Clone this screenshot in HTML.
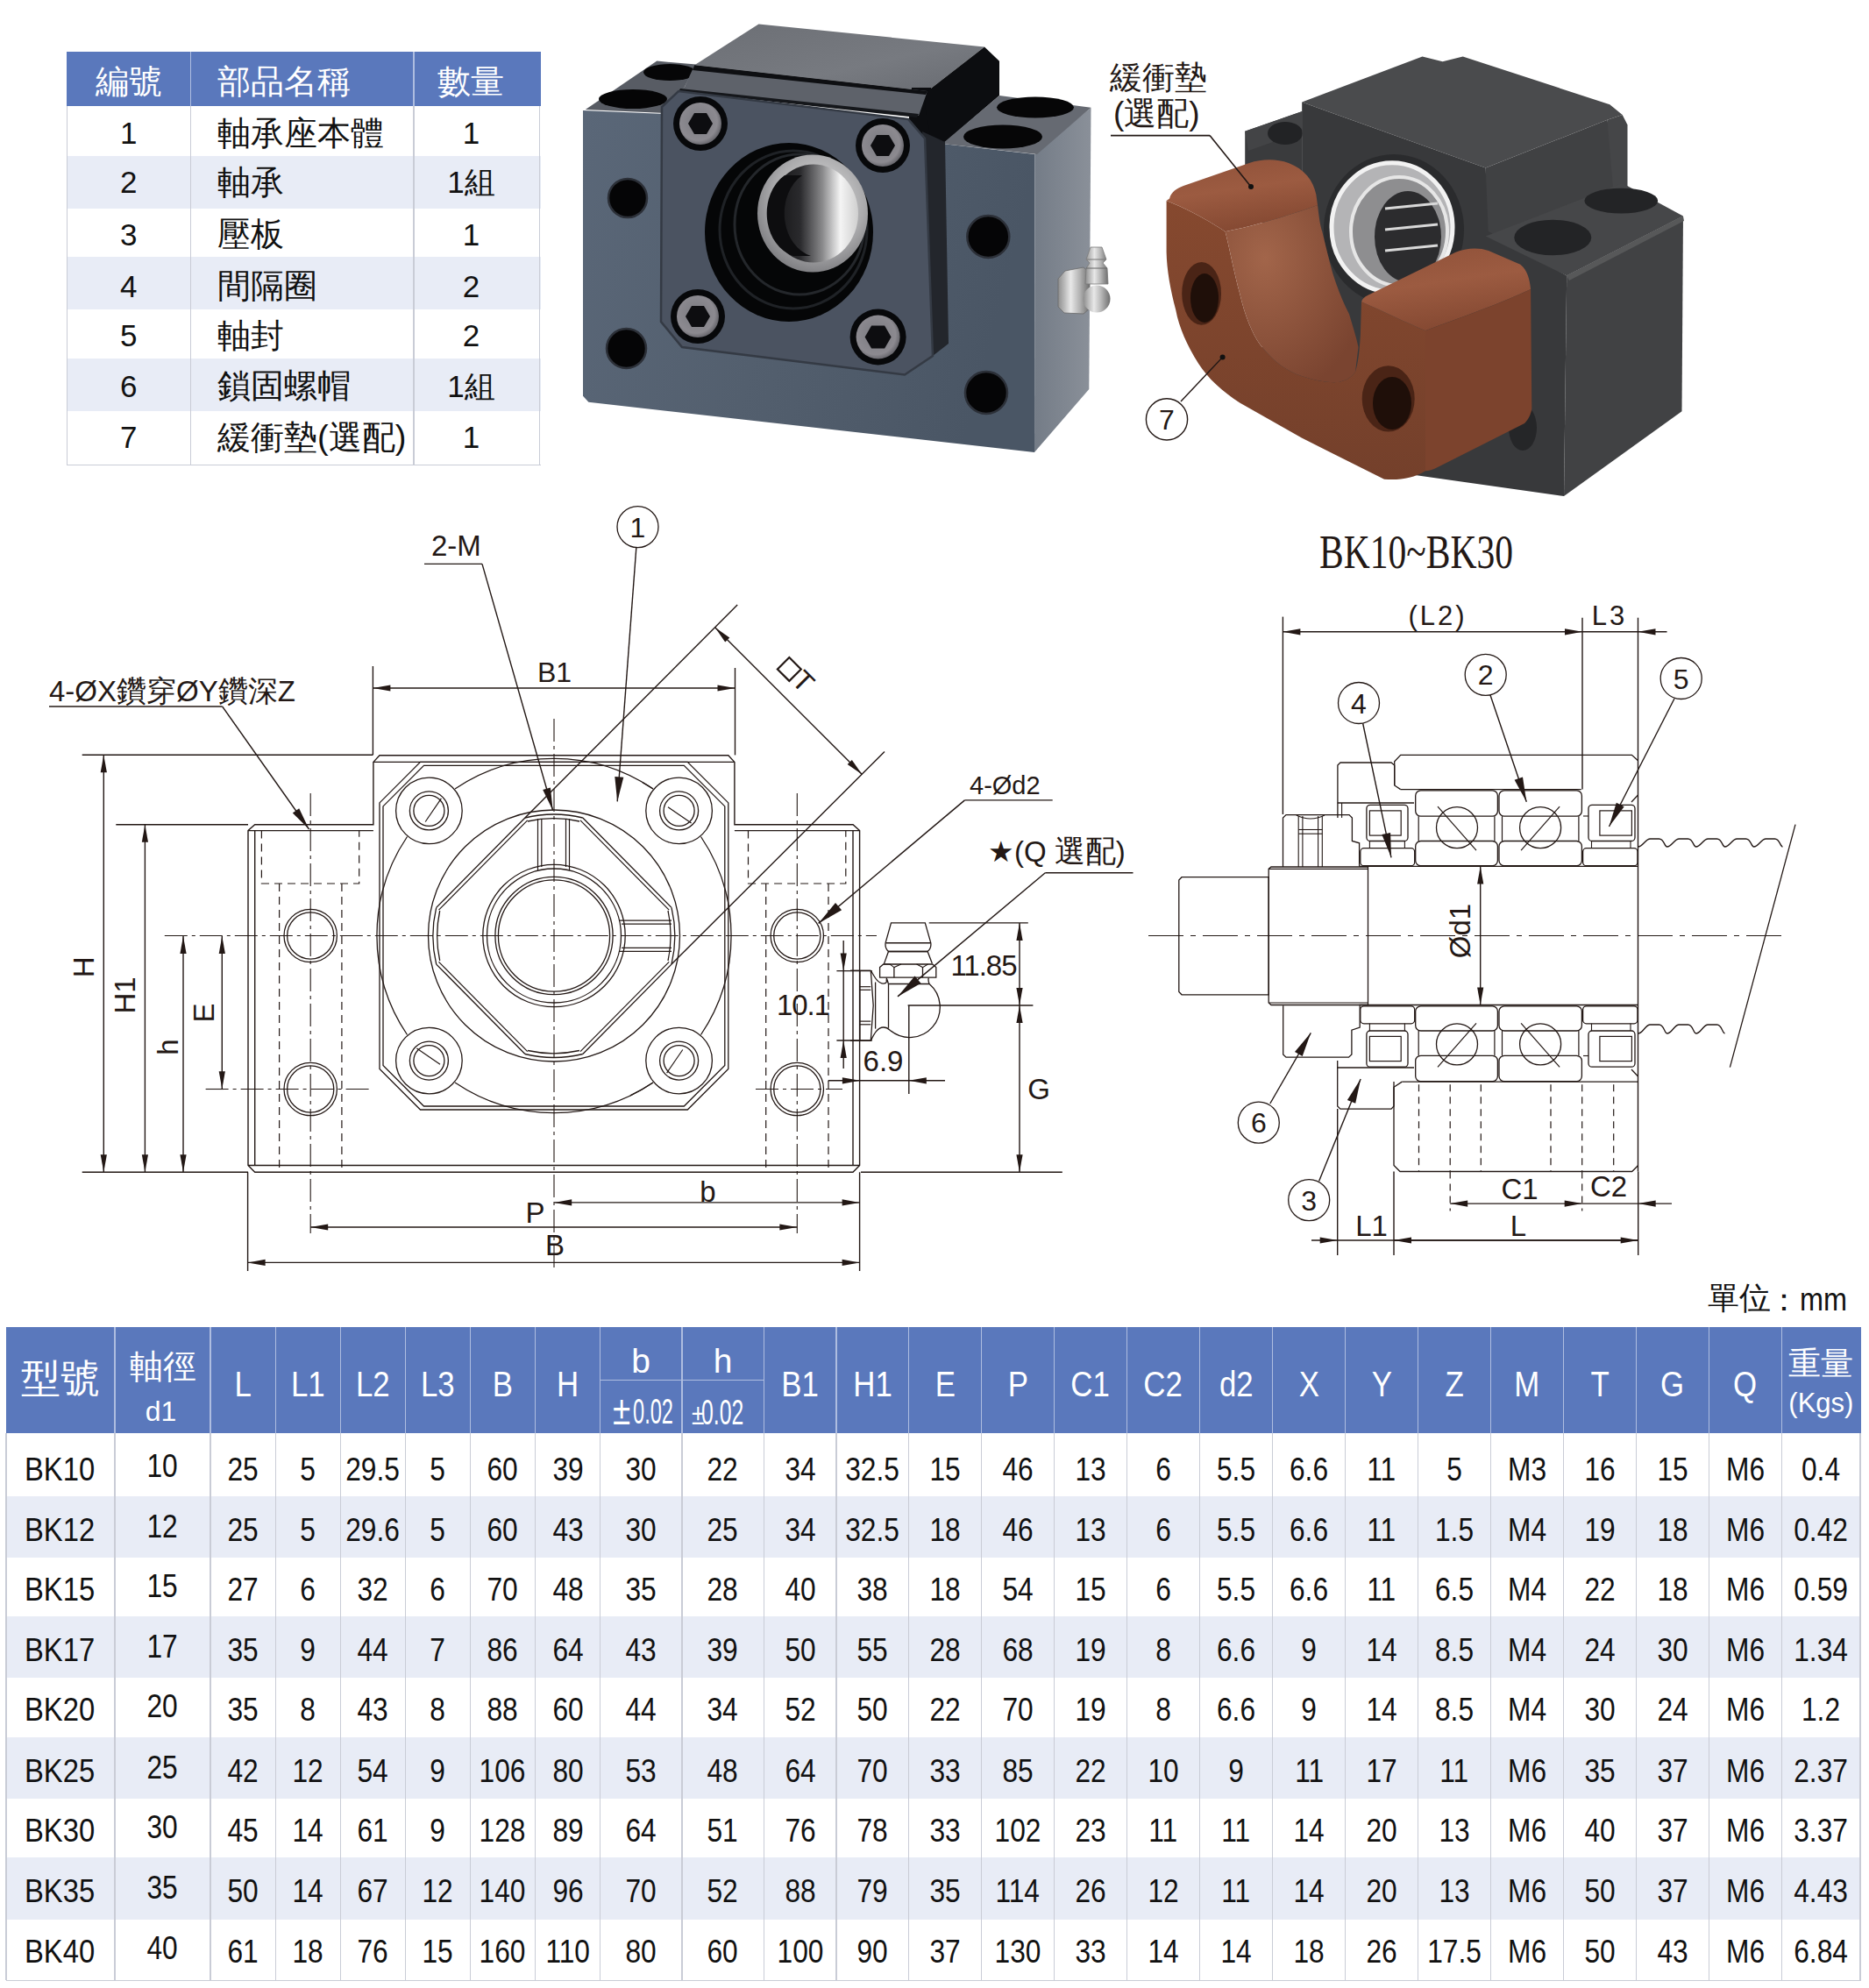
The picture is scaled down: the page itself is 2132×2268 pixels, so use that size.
<!DOCTYPE html>
<html><head><meta charset="utf-8"><title>BK</title><style>
html,body{margin:0;padding:0;background:#fff}
body{width:2132px;height:2268px;position:relative;overflow:hidden;font-family:"Liberation Sans",sans-serif;color:#111}
.a{position:absolute}
.t{position:absolute;white-space:nowrap}
svg text{font-family:"Liberation Sans",sans-serif}
</style></head><body>
<div class="a" style="left:76.0px;top:59.0px;width:540.5px;height:62.0px;background:#5a78bc"></div>
<div class="a" style="left:76.0px;top:178.0px;width:540.5px;height:60.3px;background:#e8ecf6"></div>
<div class="a" style="left:76.0px;top:292.9px;width:540.5px;height:60.4px;background:#e8ecf6"></div>
<div class="a" style="left:76.0px;top:409.3px;width:540.5px;height:59.7px;background:#e8ecf6"></div>
<div class="a" style="left:76.0px;top:121.0px;width:1.2px;height:410.0px;background:#c9ccd6"></div>
<div class="a" style="left:615.3px;top:121.0px;width:1.2px;height:410.0px;background:#c9ccd6"></div>
<div class="a" style="left:76.0px;top:529.8px;width:540.5px;height:1.2px;background:#c9ccd6"></div>
<div class="a" style="left:216.9px;top:59.0px;width:1.4px;height:62.0px;background:#aebde0"></div>
<div class="a" style="left:216.9px;top:121.0px;width:1.4px;height:410.0px;background:#c9ccd6"></div>
<div class="a" style="left:471.4px;top:59.0px;width:1.4px;height:62.0px;background:#aebde0"></div>
<div class="a" style="left:471.4px;top:121.0px;width:1.4px;height:410.0px;background:#c9ccd6"></div>
<div class="t " style="left:-52.8px;width:400px;text-align:center;top:73.5px;font-size:38px;line-height:38px;color:#fff">編號</div>
<div class="t " style="left:248px;top:73.5px;font-size:38px;line-height:38px;color:#fff">部品名稱</div>
<div class="t " style="left:336.7px;width:400px;text-align:center;top:73.5px;font-size:38px;line-height:38px;color:#fff">數量</div>
<div class="t " style="left:-53.3px;width:400px;text-align:center;top:134.3px;font-size:35px;line-height:35px;color:#111">1</div>
<div class="t " style="left:248px;top:132.8px;font-size:38px;line-height:38px;color:#111">軸承座本體</div>
<div class="t " style="left:337.5px;width:400px;text-align:center;top:134.3px;font-size:35px;line-height:35px;color:#111">1</div>
<div class="t " style="left:-53.3px;width:400px;text-align:center;top:190.4px;font-size:35px;line-height:35px;color:#111">2</div>
<div class="t " style="left:248px;top:188.9px;font-size:38px;line-height:38px;color:#111">軸承</div>
<div class="t " style="left:337.5px;width:400px;text-align:center;top:190.4px;font-size:35px;line-height:35px;color:#111">1組</div>
<div class="t " style="left:-53.3px;width:400px;text-align:center;top:249.5px;font-size:35px;line-height:35px;color:#111">3</div>
<div class="t " style="left:248px;top:248.0px;font-size:38px;line-height:38px;color:#111">壓板</div>
<div class="t " style="left:337.5px;width:400px;text-align:center;top:249.5px;font-size:35px;line-height:35px;color:#111">1</div>
<div class="t " style="left:-53.3px;width:400px;text-align:center;top:308.7px;font-size:35px;line-height:35px;color:#111">4</div>
<div class="t " style="left:248px;top:307.2px;font-size:38px;line-height:38px;color:#111">間隔圈</div>
<div class="t " style="left:337.5px;width:400px;text-align:center;top:308.7px;font-size:35px;line-height:35px;color:#111">2</div>
<div class="t " style="left:-53.3px;width:400px;text-align:center;top:365.1px;font-size:35px;line-height:35px;color:#111">5</div>
<div class="t " style="left:248px;top:363.6px;font-size:38px;line-height:38px;color:#111">軸封</div>
<div class="t " style="left:337.5px;width:400px;text-align:center;top:365.1px;font-size:35px;line-height:35px;color:#111">2</div>
<div class="t " style="left:-53.3px;width:400px;text-align:center;top:422.7px;font-size:35px;line-height:35px;color:#111">6</div>
<div class="t " style="left:248px;top:421.2px;font-size:38px;line-height:38px;color:#111">鎖固螺帽</div>
<div class="t " style="left:337.5px;width:400px;text-align:center;top:422.7px;font-size:35px;line-height:35px;color:#111">1組</div>
<div class="t " style="left:-53.3px;width:400px;text-align:center;top:481.0px;font-size:35px;line-height:35px;color:#111">7</div>
<div class="t " style="left:248px;top:479.5px;font-size:38px;line-height:38px;color:#111">緩衝墊(選配)</div>
<div class="t " style="left:337.5px;width:400px;text-align:center;top:481.0px;font-size:35px;line-height:35px;color:#111">1</div>
<svg class="a" style="left:0;top:0" width="2132" height="2268" viewBox="0 0 2132 2268" xmlns="http://www.w3.org/2000/svg">
<defs>
<linearGradient id="p1front" x1="0" y1="0" x2="1" y2="0.2"><stop offset="0" stop-color="#5a6778"/><stop offset="0.5" stop-color="#535f6e"/><stop offset="1" stop-color="#4a5665"/></linearGradient>
<linearGradient id="p1side" x1="0" y1="0" x2="1" y2="0"><stop offset="0" stop-color="#747c87"/><stop offset="1" stop-color="#8a9099"/></linearGradient>
<linearGradient id="p1top" x1="0" y1="0" x2="1" y2="1"><stop offset="0" stop-color="#6c6f75"/><stop offset="0.6" stop-color="#777a80"/><stop offset="1" stop-color="#686b71"/></linearGradient>
<radialGradient id="silver" cx="0.55" cy="0.4" r="0.7"><stop offset="0" stop-color="#e6e6e6"/><stop offset="0.6" stop-color="#a9a9ab"/><stop offset="1" stop-color="#6c6c70"/></radialGradient>
<linearGradient id="bore" x1="0" y1="0" x2="1" y2="0"><stop offset="0" stop-color="#101012"/><stop offset="0.35" stop-color="#2a2a2d"/><stop offset="0.6" stop-color="#8a8a8c"/><stop offset="0.8" stop-color="#f4f4f4"/><stop offset="1" stop-color="#cfcfcf"/></linearGradient>
<radialGradient id="bolt" cx="0.45" cy="0.45" r="0.6"><stop offset="0" stop-color="#7a7a80"/><stop offset="0.75" stop-color="#8c8a90"/><stop offset="1" stop-color="#5a5a60"/></radialGradient>
<linearGradient id="nip" x1="0" y1="0" x2="1" y2="0"><stop offset="0" stop-color="#8d8d8d"/><stop offset="0.4" stop-color="#e8e8e8"/><stop offset="0.7" stop-color="#b0b0b0"/><stop offset="1" stop-color="#6d6d6d"/></linearGradient>
</defs>
<polygon points="665.0,126.0 758.6,130.0 1075.0,164.0 1180.5,176.0 1180.0,516.0 671.4,458.7 665.0,451.7" fill="url(#p1front)"/>
<polygon points="1180.5,176.0 1244.5,122.7 1242.3,444.0 1180.0,516.0" fill="url(#p1side)"/>
<polygon points="667.8,125.0 749.3,69.6 794.0,73.5 781.0,99.0 758.6,129.0" fill="#585c64"/>
<ellipse cx="722" cy="113" rx="39" ry="11" fill="#050506"/>
<ellipse cx="764" cy="82.5" rx="30" ry="9.5" fill="#060607"/>
<polygon points="792.3,74.3 865.4,27.5 1123.0,53.4 1057.9,103.9" fill="url(#p1top)"/>
<polygon points="1040.0,100.0 1062.0,100.0 1066.0,170.0 1036.0,145.0" fill="#0c0d10"/>
<polygon points="781.0,99.0 792.3,74.3 1057.9,103.9 1048.0,132.0 774.2,104.2" fill="#5e626a"/>
<polygon points="792.3,74.3 1057.9,103.9 1056.0,108.0 790.0,80.0" fill="#0e0f12"/>
<polygon points="776.0,101.0 1048.0,130.0 1046.0,134.0 774.2,104.2" fill="#15171b"/>
<polygon points="1057.9,103.9 1123.0,53.4 1140.0,69.7 1140.0,109.0 1076.0,164.0 1062.0,160.0 1055.0,120.0" fill="#0c0d10"/>
<polygon points="1075.0,164.0 1140.0,109.0 1244.5,122.7 1183.0,176.0" fill="#666a72"/>
<ellipse cx="1181" cy="122.5" rx="44" ry="12" fill="#060607"/>
<ellipse cx="1144" cy="156" rx="45" ry="13.5" fill="#060607"/>
<polygon points="1052.0,150.0 1078.0,162.0 1082.0,392.0 1064.0,406.0" fill="#23262c"/>
<polygon points="755.0,122.0 774.0,104.0 1036.0,136.0 1055.0,158.0 1064.0,406.0 1032.0,427.5 778.0,396.0 754.0,367.0" fill="#4b5361" stroke="#343a44" stroke-width="2.5"/>
<ellipse cx="900" cy="265" rx="96" ry="102" fill="#050607"/>
<ellipse cx="905" cy="262" rx="84" ry="90" fill="none" stroke="#1f2226" stroke-width="3"/>
<ellipse cx="912" cy="256" rx="74" ry="80" fill="none" stroke="#24272b" stroke-width="3"/>
<ellipse cx="927" cy="243.6" rx="63" ry="67" fill="url(#silver)"/>
<ellipse cx="928" cy="243.6" rx="51" ry="56" fill="url(#bore)"/>
<path d="M895,200 A40,50 0 0,0 905,292 L925,292 A40,50 0 0,1 915,200 Z" fill="#0d0d0f"/>
<circle cx="799" cy="141" r="31" fill="#07080a"/>
<circle cx="799" cy="141" r="24" fill="url(#bolt)"/>
<polygon points="813.0,141.0 806.0,153.1 792.0,153.1 785.0,141.0 792.0,128.9 806.0,128.9" fill="#0d0d10"/>
<circle cx="1007" cy="166" r="31" fill="#07080a"/>
<circle cx="1007" cy="166" r="24" fill="url(#bolt)"/>
<polygon points="1021.0,166.0 1014.0,178.1 1000.0,178.1 993.0,166.0 1000.0,153.9 1014.0,153.9" fill="#0d0d10"/>
<circle cx="796" cy="361" r="31" fill="#07080a"/>
<circle cx="796" cy="361" r="24" fill="url(#bolt)"/>
<polygon points="810.0,361.0 803.0,373.1 789.0,373.1 782.0,361.0 789.0,348.9 803.0,348.9" fill="#0d0d10"/>
<circle cx="1001.6" cy="384.5" r="32" fill="#07080a"/>
<circle cx="1001.6" cy="384.5" r="25" fill="url(#bolt)"/>
<polygon points="1016.6,384.5 1009.1,397.5 994.1,397.5 986.6,384.5 994.1,371.5 1009.1,371.5" fill="#0d0d10"/>
<circle cx="716" cy="226" r="22" fill="#050506" stroke="#2c3038" stroke-width="2.5"/>
<circle cx="714.5" cy="397.5" r="22.5" fill="#050506" stroke="#2c3038" stroke-width="2.5"/>
<circle cx="1127.3" cy="270" r="24" fill="#050506" stroke="#2c3038" stroke-width="2.5"/>
<circle cx="1125" cy="448" r="24" fill="#050506" stroke="#2c3038" stroke-width="2.5"/>
<polygon points="1207.0,318.0 1215.0,309.0 1236.0,305.0 1243.0,311.0 1243.0,352.0 1236.0,358.0 1214.0,357.0 1207.0,350.0" fill="url(#nip)" stroke="#6a6a6a" stroke-width="0.8"/>
<circle cx="1251" cy="341" r="15.5" fill="url(#nip)"/>
<path d="M1244,282 L1257,282 L1262,296 L1258,300 L1263,306 L1264,324 L1238,324 L1239,306 L1243,300 L1239,296 Z" fill="url(#nip)" stroke="#7a7a7a" stroke-width="0.8"/>
<line x1="1239" y1="306" x2="1263" y2="306" stroke="#666" stroke-width="1"/>
<line x1="1240" y1="296" x2="1261" y2="296" stroke="#777" stroke-width="1"/>
<defs>
<linearGradient id="brtop" x1="0" y1="0" x2="0.3" y2="1"><stop offset="0" stop-color="#8f5139"/><stop offset="0.5" stop-color="#9c5b41"/><stop offset="1" stop-color="#864a33"/></linearGradient>
<linearGradient id="brfront" x1="0" y1="0" x2="0" y2="1"><stop offset="0" stop-color="#86492f"/><stop offset="1" stop-color="#74402b"/></linearGradient>
<radialGradient id="brg" cx="0.3" cy="0.3" r="0.8"><stop offset="0" stop-color="#a2654a"/><stop offset="1" stop-color="#7a4430"/></radialGradient>
<radialGradient id="brg2" cx="0.5" cy="0.5" r="0.6"><stop offset="0" stop-color="#eeeeee"/><stop offset="0.55" stop-color="#c8c8c8"/><stop offset="0.8" stop-color="#8a8a8a"/><stop offset="1" stop-color="#4a4a4a"/></radialGradient>
</defs>
<polygon points="1420.2,149.7 1485.5,127.0 1485.5,230.0 1420.2,240.0" fill="#3a3b3d"/>
<polygon points="1420.2,149.7 1485.5,127.0 1485.5,150.0 1424.0,172.0" fill="#434446"/>
<ellipse cx="1466" cy="152" rx="20" ry="13" fill="#222325"/>
<polygon points="1485.2,116.5 1622.5,64.4 1645.6,70.2 1668.7,64.4 1836.3,119.3 1850.7,130.9 1833.4,136.7 1694.7,191.6" fill="#4a4b4d"/>
<polygon points="1694.7,191.6 1833.4,136.7 1850.0,212.0 1694.7,272.0" fill="#404143"/>
<polygon points="1833.4,136.7 1850.7,130.9 1856.5,142.5 1856.5,214.0 1840.0,214.0" fill="#454648"/>
<polygon points="1485.2,116.5 1694.7,191.6 1697.6,263.8 1787.2,314.4 1784.0,566.0 1600.0,540.0 1440.0,440.0 1440.0,240.0 1485.2,235.0" fill="#38393b"/>
<polygon points="1694.7,269.6 1850.7,208.9 1920.0,246.5 1787.2,314.4" fill="#464749"/>
<ellipse cx="1849.3" cy="229.1" rx="41.9" ry="14.4" fill="#232426"/>
<ellipse cx="1771.3" cy="271" rx="44" ry="20.2" fill="#232426"/>
<polygon points="1787.2,314.4 1920.0,246.5 1918.5,469.3 1784.0,566.0" fill="#414244"/>
<polygon points="1787.2,314.4 1920.0,246.5 1921.0,252.0 1790.0,320.0" fill="#575859"/>
<ellipse cx="1590" cy="262" rx="80" ry="86" fill="#2a2b2d"/>
<ellipse cx="1588" cy="259.4" rx="69" ry="73.7" fill="#b4b4b6" stroke="#f2f2f2" stroke-width="5"/>
<ellipse cx="1596" cy="264" rx="55" ry="62" fill="#8e8e90" stroke="#e6e6e6" stroke-width="4"/>
<ellipse cx="1606" cy="270" rx="38" ry="52" fill="#2c2c2e"/>
<line x1="1580" y1="238" x2="1640" y2="232" stroke="#d8d8d8" stroke-width="3"/>
<line x1="1580" y1="262" x2="1640" y2="256" stroke="#d8d8d8" stroke-width="3"/>
<line x1="1580" y1="286" x2="1640" y2="280" stroke="#d8d8d8" stroke-width="3"/>
<ellipse cx="1737" cy="488" rx="16" ry="26" fill="#252628"/>
<path d="M1330.6,228.9 C1360,240 1385,256 1397.7,264.2 C1404,290 1408,312 1414.2,334.8 C1420,360 1428,380 1437.7,393.6 C1452,412 1468,424 1484.8,429 C1500,434 1514,437 1527.2,436 C1536,434 1542,430 1546,424.3 C1550,412 1551,396 1551.9,381.9 L1553,344.2 C1580,356 1604,368 1626,377.2 L1626,537.3 C1612,546 1596,548 1579,546.7 L1484.8,499.6 L1414.2,459.6 C1394,446 1378,432 1367.1,414.8 C1354,394 1345,374 1341.2,353.6 C1335,330 1331,308 1330.6,287.7 Z" fill="url(#brfront)"/>
<path d="M1334.1,226.5 C1336,219 1342,215 1350,212 L1425,186 C1440,181 1456,181 1470,186 C1488,193 1498,206 1501.3,221.8 L1503,234 C1470,246 1430,258 1397.7,264.2 C1385,256 1360,240 1330.6,228.9 Z" fill="url(#brtop)"/>
<path d="M1397.7,264.2 C1430,258 1470,246 1503,234 C1505,250 1506,258 1508.3,264.2 C1512,280 1516,296 1520.1,311.2 C1526,330 1532,345 1539,358.3 C1543,372 1547,384 1549.5,396 L1546,424.3 C1542,430 1536,434 1527.2,436 C1514,437 1500,434 1484.8,429 C1468,424 1452,412 1437.7,393.6 C1428,380 1420,360 1414.2,334.8 C1408,312 1404,290 1397.7,264.2 Z" fill="url(#brg)"/>
<path d="M1553,344.2 C1554,341 1556,339 1560,337 L1660,288 C1672,283 1686,282 1698,286 L1734.3,301.8 C1742,308 1745,318 1746.1,330.1 C1712,346 1668,362 1626,377.2 C1604,368 1580,356 1553,344.2 Z" fill="url(#brtop)"/>
<path d="M1626,377.2 C1668,362 1712,346 1746.1,330.1 L1747.3,466.6 C1746,474 1743,479 1739,483.1 L1640,533 C1634,536 1630,537 1626,537.3 Z" fill="#7c432d"/>
<ellipse cx="1370.6" cy="334.8" rx="22.4" ry="35.9" fill="#4a2416"/>
<ellipse cx="1374" cy="340" rx="16" ry="28" fill="#1f0f09"/>
<ellipse cx="1583.7" cy="454.9" rx="30" ry="37.7" fill="#4a2416"/>
<ellipse cx="1588" cy="460" rx="22" ry="30" fill="#1f0f09"/>
<text x="1266" y="101" font-size="37" fill="#231815">緩衝墊</text>
<text x="1270" y="142" font-size="37" fill="#231815">(選配)</text>
<line x1="1267.0" y1="154.6" x2="1380.0" y2="154.6" stroke="#231815" stroke-width="1.6"/>
<line x1="1380.0" y1="154.6" x2="1427.0" y2="213.0" stroke="#231815" stroke-width="1.6"/>
<circle cx="1427" cy="213" r="3" fill="#111"/>
<line x1="1347.0" y1="458.0" x2="1394.6" y2="407.5" stroke="#231815" stroke-width="1.4"/>
<circle cx="1394.6" cy="407.5" r="3" fill="#111"/>
<circle cx="1331" cy="478.4" r="23.6" fill="#fff" stroke="#231815" stroke-width="1.4"/>
<text x="1331.0" y="490.0" font-size="32" text-anchor="middle" fill="#231815" >7</text>
<polygon points="283.0,947.6 290.7,940.7 425.9,940.7 425.9,869.4 433.0,861.7 830.8,861.7 837.9,869.4 837.9,940.7 973.0,940.7 980.6,947.6 980.6,1329.5 973.0,1337.3 290.7,1337.3 283.0,1329.5" fill="none" stroke="#231815" stroke-width="1.4"/>
<line x1="290.7" y1="947.6" x2="290.7" y2="1329.5" stroke="#231815" stroke-width="1.4"/>
<line x1="973.0" y1="947.6" x2="973.0" y2="1329.5" stroke="#231815" stroke-width="1.4"/>
<line x1="283.0" y1="947.6" x2="425.9" y2="947.6" stroke="#231815" stroke-width="1.4"/>
<line x1="837.9" y1="947.6" x2="980.6" y2="947.6" stroke="#231815" stroke-width="1.4"/>
<line x1="283.0" y1="1329.5" x2="980.6" y2="1329.5" stroke="#231815" stroke-width="1.4"/>
<line x1="425.9" y1="869.4" x2="837.9" y2="869.4" stroke="#231815" stroke-width="1.4"/>
<polygon points="479.5,869.4 784.3,869.4 830.8,915.9 830.8,1219.5 784.3,1266.0 479.5,1266.0 433.0,1219.5 433.0,915.9" fill="none" stroke="#231815" stroke-width="1.3"/>
<polygon points="483.5,873.4 780.3,873.4 826.8,919.9 826.8,1215.5 780.3,1262.0 483.5,1262.0 437.0,1215.5 437.0,919.9" fill="none" stroke="#231815" stroke-width="1.3"/>
<path d="M519.0,900.0 A202,202 0 0,1 745.0,900.0" fill="none" stroke="#231815" stroke-width="1.3"/>
<path d="M799.5,954.5 A202,202 0 0,1 799.5,1180.5" fill="none" stroke="#231815" stroke-width="1.3"/>
<path d="M745.0,1235.0 A202,202 0 0,1 519.0,1235.0" fill="none" stroke="#231815" stroke-width="1.3"/>
<path d="M464.5,1180.5 A202,202 0 0,1 464.5,954.5" fill="none" stroke="#231815" stroke-width="1.3"/>
<path d="M733.0,892.6 A202,202 0 0,1 745.0,900.0" fill="none" stroke="#231815" stroke-width="1.3" stroke-dasharray="30 8 4 8"/>
<path d="M745.0,1235.0 A202,202 0 0,1 717.4,1250.6" fill="none" stroke="#231815" stroke-width="1.3" stroke-dasharray="30 8 4 8"/>
<circle cx="489.4" cy="924.9" r="37.8" fill="none" stroke="#231815" stroke-width="1.3"/>
<circle cx="489.4" cy="924.9" r="22.0" fill="none" stroke="#231815" stroke-width="1.3"/>
<circle cx="489.4" cy="924.9" r="17.5" fill="none" stroke="#231815" stroke-width="1.3"/>
<line x1="485.2" y1="937.5" x2="503.4" y2="910.9" stroke="#231815" stroke-width="1.2"/>
<circle cx="489.4" cy="1210.1" r="37.8" fill="none" stroke="#231815" stroke-width="1.3"/>
<circle cx="489.4" cy="1210.1" r="22.0" fill="none" stroke="#231815" stroke-width="1.3"/>
<circle cx="489.4" cy="1210.1" r="17.5" fill="none" stroke="#231815" stroke-width="1.3"/>
<line x1="502.0" y1="1214.3" x2="475.4" y2="1196.1" stroke="#231815" stroke-width="1.2"/>
<circle cx="774.6" cy="924.9" r="37.8" fill="none" stroke="#231815" stroke-width="1.3"/>
<circle cx="774.6" cy="924.9" r="22.0" fill="none" stroke="#231815" stroke-width="1.3"/>
<circle cx="774.6" cy="924.9" r="17.5" fill="none" stroke="#231815" stroke-width="1.3"/>
<line x1="762.0" y1="920.7" x2="788.6" y2="938.9" stroke="#231815" stroke-width="1.2"/>
<circle cx="774.6" cy="1210.1" r="37.8" fill="none" stroke="#231815" stroke-width="1.3"/>
<circle cx="774.6" cy="1210.1" r="22.0" fill="none" stroke="#231815" stroke-width="1.3"/>
<circle cx="774.6" cy="1210.1" r="17.5" fill="none" stroke="#231815" stroke-width="1.3"/>
<line x1="778.8" y1="1197.5" x2="760.6" y2="1224.1" stroke="#231815" stroke-width="1.2"/>
<circle cx="632.0" cy="1067.5" r="143.5" fill="none" stroke="#231815" stroke-width="1.3"/>
<line x1="664.8" y1="933.0" x2="766.0" y2="1035.4" stroke="#231815" stroke-width="1.3"/>
<line x1="662.0" y1="935.8" x2="763.2" y2="1038.2" stroke="#231815" stroke-width="1.2"/>
<line x1="766.0" y1="1100.1" x2="664.8" y2="1202.5" stroke="#231815" stroke-width="1.3"/>
<line x1="763.2" y1="1097.3" x2="662.0" y2="1199.7" stroke="#231815" stroke-width="1.2"/>
<line x1="598.9" y1="1202.5" x2="497.7" y2="1100.1" stroke="#231815" stroke-width="1.3"/>
<line x1="601.7" y1="1199.7" x2="500.5" y2="1097.3" stroke="#231815" stroke-width="1.2"/>
<line x1="497.7" y1="1035.4" x2="598.9" y2="933.0" stroke="#231815" stroke-width="1.3"/>
<line x1="500.5" y1="1038.2" x2="601.7" y2="935.8" stroke="#231815" stroke-width="1.2"/>
<path d="M598.9,933.0 A140,140 0 0,1 664.8,933.0" fill="none" stroke="#231815" stroke-width="1.3"/>
<path d="M766.0,1035.4 A140,140 0 0,1 766.0,1100.1" fill="none" stroke="#231815" stroke-width="1.3"/>
<path d="M664.8,1202.5 A140,140 0 0,1 598.9,1202.5" fill="none" stroke="#231815" stroke-width="1.3"/>
<path d="M497.7,1100.1 A140,140 0 0,1 497.7,1035.4" fill="none" stroke="#231815" stroke-width="1.3"/>
<path d="M602.0,937.0 A136,136 0 0,1 661.0,937.0" fill="none" stroke="#231815" stroke-width="1.3"/>
<path d="M762.0,1039.0 A136,136 0 0,1 762.0,1096.0" fill="none" stroke="#231815" stroke-width="1.3"/>
<path d="M661.0,1198.5 A136,136 0 0,1 602.0,1198.5" fill="none" stroke="#231815" stroke-width="1.3"/>
<path d="M501.7,1096.0 A136,136 0 0,1 501.7,1039.0" fill="none" stroke="#231815" stroke-width="1.3"/>
<circle cx="632.0" cy="1067.5" r="81.2" fill="none" stroke="#231815" stroke-width="1.3"/>
<circle cx="632.0" cy="1067.5" r="76.5" fill="none" stroke="#231815" stroke-width="1.3"/>
<circle cx="632.0" cy="1067.5" r="67.1" fill="none" stroke="#231815" stroke-width="1.3"/>
<circle cx="632.0" cy="1067.5" r="63.6" fill="none" stroke="#231815" stroke-width="1.3"/>
<line x1="613.5" y1="934.0" x2="613.5" y2="993.0" stroke="#231815" stroke-width="1.2"/>
<line x1="617.8" y1="934.0" x2="617.8" y2="989.0" stroke="#231815" stroke-width="1.2"/>
<line x1="645.5" y1="934.0" x2="645.5" y2="989.0" stroke="#231815" stroke-width="1.2"/>
<line x1="649.5" y1="934.0" x2="649.5" y2="993.0" stroke="#231815" stroke-width="1.2"/>
<line x1="706.0" y1="1050.2" x2="766.0" y2="1050.2" stroke="#231815" stroke-width="1.2"/>
<line x1="709.0" y1="1054.2" x2="766.0" y2="1054.2" stroke="#231815" stroke-width="1.2"/>
<line x1="709.0" y1="1081.3" x2="766.0" y2="1081.3" stroke="#231815" stroke-width="1.2"/>
<line x1="706.0" y1="1085.3" x2="766.0" y2="1085.3" stroke="#231815" stroke-width="1.2"/>
<circle cx="354.2" cy="1067.5" r="30.2" fill="none" stroke="#231815" stroke-width="1.3"/>
<circle cx="354.2" cy="1067.5" r="26.6" fill="none" stroke="#231815" stroke-width="1.3"/>
<circle cx="354.2" cy="1242.5" r="30.2" fill="none" stroke="#231815" stroke-width="1.3"/>
<circle cx="354.2" cy="1242.5" r="26.6" fill="none" stroke="#231815" stroke-width="1.3"/>
<polyline points="298.4,947.6 298.4,1008.0 409.7,1008.0 409.7,947.6" fill="none" stroke="#231815" stroke-width="1.2" stroke-dasharray="9 6"/>
<line x1="318.6" y1="1008.0" x2="318.6" y2="1337.3" stroke="#231815" stroke-width="1.2" stroke-dasharray="9 6"/>
<line x1="389.9" y1="1008.0" x2="389.9" y2="1337.3" stroke="#231815" stroke-width="1.2" stroke-dasharray="9 6"/>
<line x1="354.2" y1="905.0" x2="354.2" y2="1407.0" stroke="#231815" stroke-width="1.1" stroke-dasharray="26 5 4 5"/>
<circle cx="909.3" cy="1067.5" r="30.2" fill="none" stroke="#231815" stroke-width="1.3"/>
<circle cx="909.3" cy="1067.5" r="26.6" fill="none" stroke="#231815" stroke-width="1.3"/>
<circle cx="909.3" cy="1242.5" r="30.2" fill="none" stroke="#231815" stroke-width="1.3"/>
<circle cx="909.3" cy="1242.5" r="26.6" fill="none" stroke="#231815" stroke-width="1.3"/>
<polyline points="853.5,947.6 853.5,1008.0 964.8,1008.0 964.8,947.6" fill="none" stroke="#231815" stroke-width="1.2" stroke-dasharray="9 6"/>
<line x1="873.7" y1="1008.0" x2="873.7" y2="1337.3" stroke="#231815" stroke-width="1.2" stroke-dasharray="9 6"/>
<line x1="945.0" y1="1008.0" x2="945.0" y2="1337.3" stroke="#231815" stroke-width="1.2" stroke-dasharray="9 6"/>
<line x1="909.3" y1="905.0" x2="909.3" y2="1407.0" stroke="#231815" stroke-width="1.1" stroke-dasharray="26 5 4 5"/>
<line x1="632.0" y1="820.0" x2="632.0" y2="1450.0" stroke="#231815" stroke-width="1.1" stroke-dasharray="26 5 4 5"/>
<line x1="187.8" y1="1067.5" x2="1000.0" y2="1067.5" stroke="#231815" stroke-width="1.1" stroke-dasharray="26 5 4 5"/>
<line x1="234.6" y1="1242.5" x2="424.0" y2="1242.5" stroke="#231815" stroke-width="1.1" stroke-dasharray="26 5 4 5"/>
<line x1="862.0" y1="1242.5" x2="961.0" y2="1242.5" stroke="#231815" stroke-width="1.1" stroke-dasharray="26 5 4 5"/>
<line x1="93.7" y1="861.2" x2="425.4" y2="861.2" stroke="#231815" stroke-width="1.4"/>
<line x1="425.4" y1="861.2" x2="425.4" y2="760.0" stroke="#231815" stroke-width="1.4"/>
<line x1="93.7" y1="1337.3" x2="283.0" y2="1337.3" stroke="#231815" stroke-width="1.4"/>
<line x1="132.3" y1="940.7" x2="283.0" y2="940.7" stroke="#231815" stroke-width="1.4"/>
<line x1="118.3" y1="861.2" x2="118.3" y2="1337.3" stroke="#231815" stroke-width="1.4"/>
<polygon points="118.3,861.2 114.7,881.2 121.9,881.2" fill="#231815"/>
<polygon points="118.3,1337.3 121.9,1317.3 114.7,1317.3" fill="#231815"/>
<line x1="165.4" y1="940.7" x2="165.4" y2="1337.3" stroke="#231815" stroke-width="1.4"/>
<polygon points="165.4,940.7 161.8,960.7 169.0,960.7" fill="#231815"/>
<polygon points="165.4,1337.3 169.0,1317.3 161.8,1317.3" fill="#231815"/>
<line x1="209.0" y1="1067.9" x2="209.0" y2="1337.3" stroke="#231815" stroke-width="1.4"/>
<polygon points="209.0,1067.9 205.4,1087.9 212.6,1087.9" fill="#231815"/>
<polygon points="209.0,1337.3 212.6,1317.3 205.4,1317.3" fill="#231815"/>
<line x1="253.3" y1="1067.9" x2="253.3" y2="1242.2" stroke="#231815" stroke-width="1.4"/>
<polygon points="253.3,1067.9 249.7,1087.9 256.9,1087.9" fill="#231815"/>
<polygon points="253.3,1242.2 256.9,1222.2 249.7,1222.2" fill="#231815"/>
<text x="106.8" y="1103.4" font-size="33" text-anchor="middle" fill="#231815" transform="rotate(-90 106.8 1103.4)" >H</text>
<text x="153.5" y="1135.5" font-size="33" text-anchor="middle" fill="#231815" transform="rotate(-90 153.5 1135.5)" >H1</text>
<text x="203.4" y="1194.5" font-size="33" text-anchor="middle" fill="#231815" transform="rotate(-90 203.4 1194.5)" >h</text>
<text x="244.0" y="1155.5" font-size="33" text-anchor="middle" fill="#231815" transform="rotate(-90 244.0 1155.5)" >E</text>
<line x1="838.5" y1="762.0" x2="838.5" y2="861.4" stroke="#231815" stroke-width="1.4"/>
<line x1="425.4" y1="785.0" x2="838.5" y2="785.0" stroke="#231815" stroke-width="1.4"/>
<polygon points="425.4,785.0 445.4,788.6 445.4,781.4" fill="#231815"/>
<polygon points="838.5,785.0 818.5,781.4 818.5,788.6" fill="#231815"/>
<text x="632.5" y="778.0" font-size="32" text-anchor="middle" fill="#231815" >B1</text>
<line x1="282.6" y1="1337.3" x2="282.6" y2="1450.0" stroke="#231815" stroke-width="1.4"/>
<line x1="980.6" y1="1337.3" x2="980.6" y2="1450.0" stroke="#231815" stroke-width="1.4"/>
<line x1="0.0" y1="1337.3" x2="283.0" y2="1337.3" stroke="#231815" stroke-width="0"/>
<line x1="632.2" y1="1371.9" x2="980.6" y2="1371.9" stroke="#231815" stroke-width="1.4"/>
<polygon points="632.2,1371.9 652.2,1375.5 652.2,1368.3" fill="#231815"/>
<polygon points="980.6,1371.9 960.6,1368.3 960.6,1375.5" fill="#231815"/>
<text x="807.5" y="1371.0" font-size="33" text-anchor="middle" fill="#231815" >b</text>
<line x1="354.2" y1="1400.0" x2="909.3" y2="1400.0" stroke="#231815" stroke-width="1.4"/>
<polygon points="354.2,1400.0 374.2,1403.6 374.2,1396.4" fill="#231815"/>
<polygon points="909.3,1400.0 889.3,1396.4 889.3,1403.6" fill="#231815"/>
<text x="610.5" y="1395.0" font-size="33" text-anchor="middle" fill="#231815" >P</text>
<line x1="282.6" y1="1440.4" x2="980.6" y2="1440.4" stroke="#231815" stroke-width="1.4"/>
<polygon points="282.6,1440.4 302.6,1444.0 302.6,1436.8" fill="#231815"/>
<polygon points="980.6,1440.4 960.6,1436.8 960.6,1444.0" fill="#231815"/>
<text x="633.0" y="1431.6" font-size="33" text-anchor="middle" fill="#231815" >B</text>
<line x1="841.2" y1="690.1" x2="598.9" y2="933.0" stroke="#231815" stroke-width="1.4"/>
<line x1="1009.0" y1="857.5" x2="766.0" y2="1100.1" stroke="#231815" stroke-width="1.4"/>
<line x1="815.6" y1="715.8" x2="983.4" y2="883.6" stroke="#231815" stroke-width="1.4"/>
<polygon points="815.6,715.8 827.2,732.5 832.3,727.4" fill="#231815"/>
<polygon points="983.4,883.6 971.8,866.9 966.7,872.0" fill="#231815"/>
<g transform="translate(906,774) rotate(45)"><rect x="-21" y="-13" width="19" height="19" fill="none" stroke="#231815" stroke-width="2.2"/><text x="0" y="6" font-size="32" fill="#231815">T</text></g>
<text x="492.0" y="633.5" font-size="33" text-anchor="start" fill="#231815" >2-M</text>
<line x1="484.0" y1="643.4" x2="550.0" y2="643.4" stroke="#231815" stroke-width="1.4"/>
<line x1="550.0" y1="643.4" x2="630.7" y2="924.8" stroke="#231815" stroke-width="1.4"/>
<polygon points="630.7,924.8 627.9,898.6 619.2,901.0" fill="#231815"/>
<circle cx="727.5" cy="601.1" r="23.5" fill="none" stroke="#231815" stroke-width="1.3"/>
<text x="727.5" y="612.6" font-size="32" text-anchor="middle" fill="#231815" >1</text>
<line x1="725.8" y1="625.0" x2="704.2" y2="914.4" stroke="#231815" stroke-width="1.4"/>
<polygon points="704.2,914.4 711.3,886.8 701.3,886.1" fill="#231815"/>
<text x="56.0" y="799.5" font-size="33" text-anchor="start" fill="#231815" >4-ØX<tspan font-size="34">鑽穿</tspan>ØY<tspan font-size="34">鑽深</tspan>Z</text>
<line x1="56.0" y1="806.0" x2="253.6" y2="806.0" stroke="#231815" stroke-width="1.4"/>
<line x1="253.6" y1="806.0" x2="352.5" y2="946.0" stroke="#231815" stroke-width="1.4"/>
<polygon points="352.5,946.0 341.2,922.2 333.8,927.4" fill="#231815"/>
<text x="1106.0" y="906.0" font-size="29" text-anchor="start" fill="#231815" >4-Ød2</text>
<line x1="1100.5" y1="912.9" x2="1200.7" y2="912.9" stroke="#231815" stroke-width="1.4"/>
<line x1="1100.5" y1="912.9" x2="933.6" y2="1053.4" stroke="#231815" stroke-width="1.4"/>
<polygon points="933.6,1053.4 960.1,1038.3 953.0,1029.9" fill="#231815"/>
<text x="1127.0" y="983.0" font-size="33" text-anchor="start" fill="#231815" >★(Q <tspan font-size="35">選配</tspan>)</text>
<line x1="1192.3" y1="995.8" x2="1292.5" y2="995.8" stroke="#231815" stroke-width="1.4"/>
<line x1="1192.3" y1="995.8" x2="1024.0" y2="1136.9" stroke="#231815" stroke-width="1.4"/>
<polygon points="1024.0,1136.9 1050.5,1121.8 1043.5,1113.4" fill="#231815"/>
<polyline points="970.0,1107.2 993.3,1107.2" fill="none" stroke="#231815" stroke-width="1.3"/>
<polyline points="970.0,1187.3 993.3,1187.3" fill="none" stroke="#231815" stroke-width="1.3"/>
<line x1="980.9" y1="1107.2" x2="980.9" y2="1187.3" stroke="#231815" stroke-width="1.3"/>
<line x1="980.9" y1="1125.7" x2="993.3" y2="1125.7" stroke="#231815" stroke-width="1.2"/>
<line x1="980.9" y1="1129.3" x2="993.3" y2="1129.3" stroke="#231815" stroke-width="1.2"/>
<line x1="980.9" y1="1165.1" x2="993.3" y2="1165.1" stroke="#231815" stroke-width="1.2"/>
<line x1="980.9" y1="1168.8" x2="993.3" y2="1168.8" stroke="#231815" stroke-width="1.2"/>
<polyline points="993.3,1107.2 996.2,1147.0 993.3,1187.3" fill="none" stroke="#231815" stroke-width="1.3"/>
<line x1="998.6" y1="1120.5" x2="998.6" y2="1173.6" stroke="#231815" stroke-width="1.3"/>
<path d="M993.3,1107.2 C996.6,1112.4 1000.6,1122.1 1007.8,1122.1 C1011.8,1122.1 1011.8,1119.7 1011.0,1117.3" fill="none" stroke="#231815" stroke-width="1.3"/>
<path d="M993.3,1187.3 C996.6,1180.8 1000.6,1172.0 1007.8,1172.0 C1011.8,1172.0 1013.5,1173.6 1015.1,1175.2" fill="none" stroke="#231815" stroke-width="1.3"/>
<line x1="1013.5" y1="1122.5" x2="1013.5" y2="1172.8" stroke="#231815" stroke-width="1.3"/>
<line x1="1013.5" y1="1122.5" x2="1060.1" y2="1122.5" stroke="#231815" stroke-width="1.3"/>
<path d="M1060.1,1122.5 A34.2,34.2 0 1,1 1015.1,1175.2" fill="none" stroke="#231815" stroke-width="1.3"/>
<polygon points="1003.6,1103.6 1007.8,1100.0 1063.7,1100.0 1067.8,1103.6 1067.8,1115.2 1003.6,1115.2" fill="none" stroke="#231815" stroke-width="1.3"/>
<line x1="1019.9" y1="1103.6" x2="1019.9" y2="1115.2" stroke="#231815" stroke-width="1.3"/>
<line x1="1052.5" y1="1103.6" x2="1052.5" y2="1115.2" stroke="#231815" stroke-width="1.3"/>
<polyline points="1007.8,1100.0 1015.1,1100.0 1019.9,1103.6 1027.9,1100.0" fill="none" stroke="#231815" stroke-width="1.1"/>
<polyline points="1045.6,1100.0 1052.5,1103.6 1058.5,1100.0" fill="none" stroke="#231815" stroke-width="1.1"/>
<line x1="1011.0" y1="1117.3" x2="1059.3" y2="1117.3" stroke="#231815" stroke-width="0"/>
<path d="M1011.0,1115.6 C1012.6,1118.1 1012.6,1120.5 1013.5,1122.5 M1059.3,1115.6 C1058.5,1118.1 1059.3,1120.5 1060.1,1122.5" fill="none" stroke="#231815" stroke-width="1.3"/>
<polyline points="1008.6,1099.1 1013.5,1085.5 1058.1,1085.5 1063.3,1099.1" fill="none" stroke="#231815" stroke-width="1.3"/>
<line x1="1013.5" y1="1085.5" x2="1058.1" y2="1085.5" stroke="#231815" stroke-width="1.3"/>
<path d="M1013.5,1085.5 C1010.2,1082.6 1009.8,1077.8 1010.2,1075.4 L1016.5,1052.9 L1055.3,1052.9 L1061.7,1075.4 C1062.1,1077.8 1061.7,1082.6 1058.1,1085.5" fill="none" stroke="#231815" stroke-width="1.3"/>
<line x1="1010.6" y1="1075.8" x2="1061.3" y2="1075.8" stroke="#231815" stroke-width="1.6"/>
<line x1="1059.7" y1="1052.9" x2="1172.8" y2="1052.9" stroke="#231815" stroke-width="1.4"/>
<line x1="1035.6" y1="1147.0" x2="1178.4" y2="1147.0" stroke="#231815" stroke-width="1.4"/>
<line x1="1036.8" y1="1147.0" x2="1036.8" y2="1248.0" stroke="#231815" stroke-width="1.4"/>
<line x1="982.0" y1="1337.3" x2="1211.8" y2="1337.3" stroke="#231815" stroke-width="1.4"/>
<line x1="1163.0" y1="1052.9" x2="1163.0" y2="1147.0" stroke="#231815" stroke-width="1.4"/>
<polygon points="1163.0,1052.9 1159.4,1072.9 1166.6,1072.9" fill="#231815"/>
<polygon points="1163.0,1147.0 1166.6,1127.0 1159.4,1127.0" fill="#231815"/>
<line x1="1163.0" y1="1147.0" x2="1163.0" y2="1337.3" stroke="#231815" stroke-width="1.4"/>
<polygon points="1163.0,1147.0 1159.4,1167.0 1166.6,1167.0" fill="#231815"/>
<polygon points="1163.0,1337.3 1166.6,1317.3 1159.4,1317.3" fill="#231815"/>
<text x="1122.0" y="1113.0" font-size="33" text-anchor="middle" fill="#231815" letter-spacing="-1">11.85</text>
<text x="1185.0" y="1253.7" font-size="33" text-anchor="middle" fill="#231815" >G</text>
<line x1="954.4" y1="1107.6" x2="994.8" y2="1107.6" stroke="#231815" stroke-width="1.4"/>
<line x1="954.4" y1="1187.0" x2="994.8" y2="1187.0" stroke="#231815" stroke-width="1.4"/>
<line x1="962.2" y1="1073.0" x2="962.2" y2="1219.0" stroke="#231815" stroke-width="1.4"/>
<polygon points="962.2,1107.6 965.8,1087.6 958.6,1087.6" fill="#231815"/>
<polygon points="962.2,1187.0 958.6,1207.0 965.8,1207.0" fill="#231815"/>
<text x="916.0" y="1157.7" font-size="33" text-anchor="middle" fill="#231815" letter-spacing="-1">10.1</text>
<line x1="944.7" y1="1232.8" x2="1078.0" y2="1232.8" stroke="#231815" stroke-width="1.4"/>
<polygon points="980.9,1232.8 960.9,1229.2 960.9,1236.4" fill="#231815"/>
<polygon points="1036.8,1232.8 1056.8,1236.4 1056.8,1229.2" fill="#231815"/>
<text x="1007.5" y="1221.7" font-size="33" text-anchor="middle" fill="#231815" >6.9</text>
<line x1="1310.0" y1="1067.5" x2="2032.0" y2="1067.5" stroke="#231815" stroke-width="1.1" stroke-dasharray="40 8 6 8"/>
<polygon points="1348.0,1000.7 1447.2,1000.7 1447.2,1134.8 1348.0,1134.8 1344.8,1131.5 1344.8,1004.0" fill="none" stroke="#231815" stroke-width="1.3"/>
<polygon points="1447.2,991.3 1450.0,989.0 1560.5,989.0 1560.5,1146.5 1450.0,1146.5 1447.2,1144.0" fill="none" stroke="#231815" stroke-width="1.3"/>
<line x1="1447.2" y1="991.3" x2="1560.5" y2="991.3" stroke="#231815" stroke-width="1.2"/>
<line x1="1447.2" y1="1144.0" x2="1560.5" y2="1144.0" stroke="#231815" stroke-width="1.2"/>
<line x1="1550.6" y1="988.4" x2="1868.5" y2="988.4" stroke="#231815" stroke-width="1.4"/>
<line x1="1550.6" y1="1146.5" x2="1868.5" y2="1146.5" stroke="#231815" stroke-width="1.4"/>
<line x1="1868.5" y1="861.0" x2="1868.5" y2="1336.5" stroke="#231815" stroke-width="1.4"/>
<polyline points="1463.5,989.0 1463.5,933.0 1467.0,929.6 1539.0,929.6 1542.4,933.0 1542.4,959.5 1550.6,961.8 1550.6,988.4" fill="none" stroke="#231815" stroke-width="1.3"/>
<line x1="1481.2" y1="931.0" x2="1481.2" y2="989.0" stroke="#231815" stroke-width="1.1"/>
<line x1="1485.9" y1="931.0" x2="1485.9" y2="989.0" stroke="#231815" stroke-width="1.1"/>
<line x1="1503.6" y1="931.0" x2="1503.6" y2="989.0" stroke="#231815" stroke-width="1.1"/>
<line x1="1508.3" y1="931.0" x2="1508.3" y2="989.0" stroke="#231815" stroke-width="1.1"/>
<line x1="1481.2" y1="946.5" x2="1508.3" y2="946.5" stroke="#231815" stroke-width="1.1"/>
<line x1="1481.2" y1="951.2" x2="1508.3" y2="951.2" stroke="#231815" stroke-width="1.1"/>
<path d="M1478.8,930 Q1495,938 1511,930" fill="none" stroke="#231815" stroke-width="1.1"/>
<polyline points="1463.7,1147.2 1463.7,1203.0 1467.0,1206.2 1538.5,1206.2 1541.9,1203.0 1541.9,1175.2 1551.2,1172.0 1551.2,1147.2" fill="none" stroke="#231815" stroke-width="1.3"/>
<polyline points="1525.9,933.0 1525.9,873.0 1529.0,870.0 1587.0,870.0 1590.7,873.0 1590.7,896.0 1597.7,900.6" fill="none" stroke="#231815" stroke-width="1.3"/>
<line x1="1530.6" y1="916.0" x2="1530.6" y2="933.0" stroke="#231815" stroke-width="1.1"/>
<line x1="1525.9" y1="916.0" x2="1613.0" y2="916.0" stroke="#231815" stroke-width="1.3"/>
<polyline points="1525.7,1210.0 1525.7,1262.0 1529.0,1265.1 1587.0,1265.1 1590.0,1262.0 1590.0,1240.3 1599.3,1234.1" fill="none" stroke="#231815" stroke-width="1.3"/>
<line x1="1525.7" y1="1218.0" x2="1613.0" y2="1218.0" stroke="#231815" stroke-width="1.3"/>
<polyline points="1590.7,896.0 1590.7,868.8 1597.7,861.3 1861.4,861.3 1868.5,867.7" fill="none" stroke="#231815" stroke-width="1.3"/>
<line x1="1597.7" y1="900.6" x2="1803.7" y2="900.6" stroke="#231815" stroke-width="1.3"/>
<line x1="1861.0" y1="915.0" x2="1868.5" y2="907.0" stroke="#231815" stroke-width="1.2"/>
<polyline points="1590.0,1234.1 1590.0,1329.5 1597.0,1336.5 1861.7,1336.5 1868.7,1329.5" fill="none" stroke="#231815" stroke-width="1.3"/>
<line x1="1599.3" y1="1234.1" x2="1868.7" y2="1234.1" stroke="#231815" stroke-width="1.3"/>
<line x1="1861.0" y1="1220.0" x2="1868.5" y2="1228.0" stroke="#231815" stroke-width="1.2"/>
<line x1="1618.5" y1="1237.2" x2="1618.5" y2="1336.5" stroke="#231815" stroke-width="1.2" stroke-dasharray="8 6"/>
<line x1="1654.2" y1="1237.2" x2="1654.2" y2="1336.5" stroke="#231815" stroke-width="1.2" stroke-dasharray="8 6"/>
<line x1="1689.3" y1="1237.2" x2="1689.3" y2="1336.5" stroke="#231815" stroke-width="1.2" stroke-dasharray="8 6"/>
<line x1="1769.0" y1="1237.2" x2="1769.0" y2="1336.5" stroke="#231815" stroke-width="1.2" stroke-dasharray="8 6"/>
<line x1="1804.7" y1="1237.2" x2="1804.7" y2="1336.5" stroke="#231815" stroke-width="1.2" stroke-dasharray="8 6"/>
<line x1="1840.7" y1="1237.2" x2="1840.7" y2="1336.5" stroke="#231815" stroke-width="1.2" stroke-dasharray="8 6"/>
<line x1="1654.2" y1="1336.5" x2="1654.2" y2="1381.5" stroke="#231815" stroke-width="1.2" stroke-dasharray="8 6"/>
<line x1="1804.7" y1="1336.5" x2="1804.7" y2="1381.5" stroke="#231815" stroke-width="1.2" stroke-dasharray="8 6"/>
<rect x="1614.7" y="901.8" width="93.7" height="29.4" rx="6" fill="none" stroke="#231815" stroke-width="1.3"/>
<rect x="1614.7" y="959.5" width="93.7" height="28.2" rx="6" fill="none" stroke="#231815" stroke-width="1.3"/>
<line x1="1618.2" y1="931.2" x2="1618.2" y2="959.5" stroke="#231815" stroke-width="1.2"/>
<line x1="1704.9" y1="931.2" x2="1704.9" y2="959.5" stroke="#231815" stroke-width="1.2"/>
<rect x="1710.0" y="901.8" width="94.4" height="29.4" rx="6" fill="none" stroke="#231815" stroke-width="1.3"/>
<rect x="1710.0" y="959.5" width="94.4" height="28.2" rx="6" fill="none" stroke="#231815" stroke-width="1.3"/>
<line x1="1713.5" y1="931.2" x2="1713.5" y2="959.5" stroke="#231815" stroke-width="1.2"/>
<line x1="1800.9" y1="931.2" x2="1800.9" y2="959.5" stroke="#231815" stroke-width="1.2"/>
<circle cx="1662.0" cy="944.2" r="23.5" fill="none" stroke="#231815" stroke-width="1.3"/>
<line x1="1640.0" y1="920.2" x2="1684.0" y2="970.2" stroke="#231815" stroke-width="1.2"/>
<circle cx="1757.1" cy="944.2" r="23.5" fill="none" stroke="#231815" stroke-width="1.3"/>
<line x1="1779.1" y1="920.2" x2="1735.1" y2="970.2" stroke="#231815" stroke-width="1.2"/>
<rect x="1558.9" y="918.3" width="47.1" height="41.2" rx="4" fill="none" stroke="#231815" stroke-width="1.3"/>
<rect x="1562.4" y="924.9" width="35.8" height="28.2" rx="0" fill="none" stroke="#231815" stroke-width="1.2"/>
<rect x="1551.8" y="967.7" width="61.9" height="20.0" rx="4" fill="none" stroke="#231815" stroke-width="1.3"/>
<rect x="1812.0" y="918.3" width="53.0" height="41.2" rx="4" fill="none" stroke="#231815" stroke-width="1.3"/>
<rect x="1824.9" y="924.9" width="36.5" height="28.2" rx="0" fill="none" stroke="#231815" stroke-width="1.2"/>
<rect x="1805.6" y="967.7" width="62.4" height="20.0" rx="4" fill="none" stroke="#231815" stroke-width="1.3"/>
<line x1="1562.4" y1="959.5" x2="1562.4" y2="967.7" stroke="#231815" stroke-width="1.1"/>
<line x1="1602.4" y1="959.5" x2="1602.4" y2="967.7" stroke="#231815" stroke-width="1.1"/>
<line x1="1815.5" y1="959.5" x2="1815.5" y2="967.7" stroke="#231815" stroke-width="1.1"/>
<line x1="1860.0" y1="959.5" x2="1860.0" y2="967.7" stroke="#231815" stroke-width="1.1"/>
<line x1="1806.0" y1="931.0" x2="1812.0" y2="931.0" stroke="#231815" stroke-width="1.1"/>
<rect x="1614.7" y="1204.3" width="93.7" height="29.4" rx="6" fill="none" stroke="#231815" stroke-width="1.3"/>
<rect x="1614.7" y="1147.8" width="93.7" height="28.2" rx="6" fill="none" stroke="#231815" stroke-width="1.3"/>
<line x1="1618.2" y1="1204.3" x2="1618.2" y2="1176.0" stroke="#231815" stroke-width="1.2"/>
<line x1="1704.9" y1="1204.3" x2="1704.9" y2="1176.0" stroke="#231815" stroke-width="1.2"/>
<rect x="1710.0" y="1204.3" width="94.4" height="29.4" rx="6" fill="none" stroke="#231815" stroke-width="1.3"/>
<rect x="1710.0" y="1147.8" width="94.4" height="28.2" rx="6" fill="none" stroke="#231815" stroke-width="1.3"/>
<line x1="1713.5" y1="1204.3" x2="1713.5" y2="1176.0" stroke="#231815" stroke-width="1.2"/>
<line x1="1800.9" y1="1204.3" x2="1800.9" y2="1176.0" stroke="#231815" stroke-width="1.2"/>
<circle cx="1662.0" cy="1191.3" r="23.5" fill="none" stroke="#231815" stroke-width="1.3"/>
<line x1="1684.0" y1="1167.3" x2="1640.0" y2="1217.3" stroke="#231815" stroke-width="1.2"/>
<circle cx="1757.1" cy="1191.3" r="23.5" fill="none" stroke="#231815" stroke-width="1.3"/>
<line x1="1735.1" y1="1167.3" x2="1779.1" y2="1217.3" stroke="#231815" stroke-width="1.2"/>
<rect x="1558.9" y="1176.0" width="47.1" height="41.2" rx="4" fill="none" stroke="#231815" stroke-width="1.3"/>
<rect x="1562.4" y="1182.4" width="35.8" height="28.2" rx="0" fill="none" stroke="#231815" stroke-width="1.2"/>
<rect x="1551.8" y="1147.8" width="61.9" height="20.0" rx="4" fill="none" stroke="#231815" stroke-width="1.3"/>
<rect x="1812.0" y="1176.0" width="53.0" height="41.2" rx="4" fill="none" stroke="#231815" stroke-width="1.3"/>
<rect x="1824.9" y="1182.4" width="36.5" height="28.2" rx="0" fill="none" stroke="#231815" stroke-width="1.2"/>
<rect x="1805.6" y="1147.8" width="62.4" height="20.0" rx="4" fill="none" stroke="#231815" stroke-width="1.3"/>
<line x1="1562.4" y1="1176.0" x2="1562.4" y2="1167.8" stroke="#231815" stroke-width="1.1"/>
<line x1="1602.4" y1="1176.0" x2="1602.4" y2="1167.8" stroke="#231815" stroke-width="1.1"/>
<line x1="1815.5" y1="1176.0" x2="1815.5" y2="1167.8" stroke="#231815" stroke-width="1.1"/>
<line x1="1860.0" y1="1176.0" x2="1860.0" y2="1167.8" stroke="#231815" stroke-width="1.1"/>
<line x1="1806.0" y1="1204.5" x2="1812.0" y2="1204.5" stroke="#231815" stroke-width="1.1"/>
<path d="M1868.5,966 C1874.5,966 1876.5,957 1882.5,957 L1892.5,957 C1898.5,957 1898.5,966 1901.5,966 C1907.5,966 1909.5,957 1915.5,957 L1925.5,957 C1931.5,957 1931.5,966 1934.5,966 C1940.5,966 1942.5,957 1948.5,957 L1958.5,957 C1964.5,957 1964.5,966 1967.5,966 C1973.5,966 1975.5,957 1981.5,957 L1991.5,957 C1997.5,957 1997.5,966 2000.5,966 C2006.5,966 2008.5,957 2014.5,957 L2024.5,957 C2030.5,957 2030.5,966 2033.5,966" fill="none" stroke="#231815" stroke-width="1.3"/>
<path d="M1868.5,1179 C1874.5,1179 1876.5,1169 1882.5,1169 L1892.5,1169 C1898.5,1169 1898.5,1179 1901.5,1179 C1907.5,1179 1909.5,1169 1915.5,1169 L1925.5,1169 C1931.5,1169 1931.5,1179 1934.5,1179 C1940.5,1179 1942.5,1169 1948.5,1169 L1958.5,1169 C1964.5,1169 1964.5,1179 1967.5,1179" fill="none" stroke="#231815" stroke-width="1.3"/>
<line x1="2048.0" y1="940.7" x2="1973.4" y2="1217.7" stroke="#231815" stroke-width="1.3"/>
<line x1="1463.4" y1="703.6" x2="1463.4" y2="929.0" stroke="#231815" stroke-width="1.4"/>
<line x1="1805.0" y1="704.7" x2="1805.0" y2="900.6" stroke="#231815" stroke-width="1.4"/>
<line x1="1868.5" y1="704.7" x2="1868.5" y2="861.0" stroke="#231815" stroke-width="1.4"/>
<line x1="1463.4" y1="720.8" x2="1805.0" y2="720.8" stroke="#231815" stroke-width="1.4"/>
<polygon points="1463.4,720.8 1483.4,724.4 1483.4,717.2" fill="#231815"/>
<polygon points="1805.0,720.8 1785.0,717.2 1785.0,724.4" fill="#231815"/>
<line x1="1805.0" y1="720.8" x2="1901.5" y2="720.8" stroke="#231815" stroke-width="1.4"/>
<polygon points="1868.5,720.8 1888.5,724.4 1888.5,717.2" fill="#231815"/>
<text x="1640.0" y="713.0" font-size="31" text-anchor="middle" fill="#231815" letter-spacing="3">(L2)</text>
<text x="1836.0" y="713.0" font-size="31" text-anchor="middle" fill="#231815" letter-spacing="3">L3</text>
<line x1="1654.2" y1="1373.1" x2="1804.7" y2="1373.1" stroke="#231815" stroke-width="1.4"/>
<polygon points="1654.2,1373.1 1674.2,1376.7 1674.2,1369.5" fill="#231815"/>
<polygon points="1804.7,1373.1 1784.7,1369.5 1784.7,1376.7" fill="#231815"/>
<line x1="1804.7" y1="1373.1" x2="1907.0" y2="1373.1" stroke="#231815" stroke-width="1.4"/>
<polygon points="1868.7,1373.1 1888.7,1376.7 1888.7,1369.5" fill="#231815"/>
<line x1="1868.7" y1="1336.5" x2="1868.7" y2="1432.0" stroke="#231815" stroke-width="1.4"/>
<text x="1733.5" y="1367.6" font-size="33" text-anchor="middle" fill="#231815" >C1</text>
<text x="1835.0" y="1364.5" font-size="33" text-anchor="middle" fill="#231815" >C2</text>
<line x1="1525.7" y1="1265.0" x2="1525.7" y2="1432.0" stroke="#231815" stroke-width="1.4"/>
<line x1="1590.0" y1="1336.5" x2="1590.0" y2="1432.0" stroke="#231815" stroke-width="1.4"/>
<line x1="1496.0" y1="1415.0" x2="1868.7" y2="1415.0" stroke="#231815" stroke-width="1.4"/>
<polygon points="1525.7,1415.0 1505.7,1411.4 1505.7,1418.6" fill="#231815"/>
<line x1="1590.0" y1="1415.0" x2="1868.7" y2="1415.0" stroke="#231815" stroke-width="1.4"/>
<polygon points="1590.0,1415.0 1610.0,1418.6 1610.0,1411.4" fill="#231815"/>
<polygon points="1868.7,1415.0 1848.7,1411.4 1848.7,1418.6" fill="#231815"/>
<text x="1564.5" y="1409.5" font-size="33" text-anchor="middle" fill="#231815" >L1</text>
<text x="1732.0" y="1409.5" font-size="33" text-anchor="middle" fill="#231815" >L</text>
<line x1="1688.7" y1="988.4" x2="1688.7" y2="1146.5" stroke="#231815" stroke-width="1.4"/>
<polygon points="1688.7,988.4 1685.1,1008.4 1692.3,1008.4" fill="#231815"/>
<polygon points="1688.7,1146.5 1692.3,1126.5 1685.1,1126.5" fill="#231815"/>
<text x="1676.9" y="1062.0" font-size="33" text-anchor="middle" fill="#231815" transform="rotate(-90 1676.9 1062.0)" >Ød1</text>
<circle cx="1550.0" cy="802.0" r="23.5" fill="none" stroke="#231815" stroke-width="1.3"/>
<text x="1550.0" y="813.5" font-size="32" text-anchor="middle" fill="#231815" >4</text>
<line x1="1554.7" y1="825.5" x2="1587.0" y2="978.3" stroke="#231815" stroke-width="1.4"/>
<polygon points="1587.0,978.3 1586.1,949.9 1576.3,951.9" fill="#231815"/>
<circle cx="1694.7" cy="769.8" r="23.5" fill="none" stroke="#231815" stroke-width="1.3"/>
<text x="1694.7" y="781.3" font-size="32" text-anchor="middle" fill="#231815" >2</text>
<line x1="1700.0" y1="793.0" x2="1741.3" y2="914.7" stroke="#231815" stroke-width="1.4"/>
<polygon points="1741.3,914.7 1737.0,886.6 1727.6,889.8" fill="#231815"/>
<circle cx="1917.7" cy="774.0" r="23.5" fill="none" stroke="#231815" stroke-width="1.3"/>
<text x="1917.7" y="785.5" font-size="32" text-anchor="middle" fill="#231815" >5</text>
<line x1="1910.0" y1="797.0" x2="1835.5" y2="943.0" stroke="#231815" stroke-width="1.4"/>
<polygon points="1835.5,943.0 1852.7,920.3 1843.8,915.8" fill="#231815"/>
<circle cx="1435.8" cy="1280.7" r="23.5" fill="none" stroke="#231815" stroke-width="1.3"/>
<text x="1435.8" y="1292.2" font-size="32" text-anchor="middle" fill="#231815" >6</text>
<line x1="1448.8" y1="1259.0" x2="1495.3" y2="1178.3" stroke="#231815" stroke-width="1.4"/>
<polygon points="1495.3,1178.3 1477.0,1200.1 1485.7,1205.1" fill="#231815"/>
<circle cx="1493.2" cy="1369.1" r="23.5" fill="none" stroke="#231815" stroke-width="1.3"/>
<text x="1493.2" y="1380.6" font-size="32" text-anchor="middle" fill="#231815" >3</text>
<line x1="1504.6" y1="1347.4" x2="1552.1" y2="1231.0" stroke="#231815" stroke-width="1.4"/>
<polygon points="1552.1,1231.0 1536.9,1255.0 1546.2,1258.8" fill="#231815"/>
<text x="1505" y="647.8" font-size="54" style="font-family:&quot;Liberation Serif&quot;,serif" fill="#231815" textLength="221" lengthAdjust="spacingAndGlyphs">BK10~BK30</text>
</svg>
<div class="a" style="left:7.0px;top:1514.0px;width:2115.5px;height:121.2px;background:#5a78bc"></div>
<div class="a" style="left:7.0px;top:1706.5px;width:2115.5px;height:70.0px;background:#e8ecf6"></div>
<div class="a" style="left:7.0px;top:1844.1px;width:2115.5px;height:70.0px;background:#e8ecf6"></div>
<div class="a" style="left:7.0px;top:1982.1px;width:2115.5px;height:70.1px;background:#e8ecf6"></div>
<div class="a" style="left:7.0px;top:2119.0px;width:2115.5px;height:71.0px;background:#e8ecf6"></div>
<div class="a" style="left:6.4px;top:1635.2px;width:1.4px;height:624.1px;background:#c9ccd6"></div>
<div class="a" style="left:130.4px;top:1514.0px;width:1.4px;height:121.2px;background:#aebde0"></div>
<div class="a" style="left:130.4px;top:1635.2px;width:1.4px;height:624.1px;background:#c9ccd6"></div>
<div class="a" style="left:239.4px;top:1514.0px;width:1.4px;height:121.2px;background:#aebde0"></div>
<div class="a" style="left:239.4px;top:1635.2px;width:1.4px;height:624.1px;background:#c9ccd6"></div>
<div class="a" style="left:314.0px;top:1514.0px;width:1.4px;height:121.2px;background:#aebde0"></div>
<div class="a" style="left:314.0px;top:1635.2px;width:1.4px;height:624.1px;background:#c9ccd6"></div>
<div class="a" style="left:387.8px;top:1514.0px;width:1.4px;height:121.2px;background:#aebde0"></div>
<div class="a" style="left:387.8px;top:1635.2px;width:1.4px;height:624.1px;background:#c9ccd6"></div>
<div class="a" style="left:461.9px;top:1514.0px;width:1.4px;height:121.2px;background:#aebde0"></div>
<div class="a" style="left:461.9px;top:1635.2px;width:1.4px;height:624.1px;background:#c9ccd6"></div>
<div class="a" style="left:535.7px;top:1514.0px;width:1.4px;height:121.2px;background:#aebde0"></div>
<div class="a" style="left:535.7px;top:1635.2px;width:1.4px;height:624.1px;background:#c9ccd6"></div>
<div class="a" style="left:609.9px;top:1514.0px;width:1.4px;height:121.2px;background:#aebde0"></div>
<div class="a" style="left:609.9px;top:1635.2px;width:1.4px;height:624.1px;background:#c9ccd6"></div>
<div class="a" style="left:684.1px;top:1514.0px;width:1.4px;height:121.2px;background:#aebde0"></div>
<div class="a" style="left:684.1px;top:1635.2px;width:1.4px;height:624.1px;background:#c9ccd6"></div>
<div class="a" style="left:777.2px;top:1514.0px;width:1.4px;height:121.2px;background:#aebde0"></div>
<div class="a" style="left:777.2px;top:1635.2px;width:1.4px;height:624.1px;background:#c9ccd6"></div>
<div class="a" style="left:870.6px;top:1514.0px;width:1.4px;height:121.2px;background:#aebde0"></div>
<div class="a" style="left:870.6px;top:1635.2px;width:1.4px;height:624.1px;background:#c9ccd6"></div>
<div class="a" style="left:953.4px;top:1514.0px;width:1.4px;height:121.2px;background:#aebde0"></div>
<div class="a" style="left:953.4px;top:1635.2px;width:1.4px;height:624.1px;background:#c9ccd6"></div>
<div class="a" style="left:1036.1px;top:1514.0px;width:1.4px;height:121.2px;background:#aebde0"></div>
<div class="a" style="left:1036.1px;top:1635.2px;width:1.4px;height:624.1px;background:#c9ccd6"></div>
<div class="a" style="left:1118.9px;top:1514.0px;width:1.4px;height:121.2px;background:#aebde0"></div>
<div class="a" style="left:1118.9px;top:1635.2px;width:1.4px;height:624.1px;background:#c9ccd6"></div>
<div class="a" style="left:1202.0px;top:1514.0px;width:1.4px;height:121.2px;background:#aebde0"></div>
<div class="a" style="left:1202.0px;top:1635.2px;width:1.4px;height:624.1px;background:#c9ccd6"></div>
<div class="a" style="left:1284.8px;top:1514.0px;width:1.4px;height:121.2px;background:#aebde0"></div>
<div class="a" style="left:1284.8px;top:1635.2px;width:1.4px;height:624.1px;background:#c9ccd6"></div>
<div class="a" style="left:1367.9px;top:1514.0px;width:1.4px;height:121.2px;background:#aebde0"></div>
<div class="a" style="left:1367.9px;top:1635.2px;width:1.4px;height:624.1px;background:#c9ccd6"></div>
<div class="a" style="left:1451.1px;top:1514.0px;width:1.4px;height:121.2px;background:#aebde0"></div>
<div class="a" style="left:1451.1px;top:1635.2px;width:1.4px;height:624.1px;background:#c9ccd6"></div>
<div class="a" style="left:1534.1px;top:1514.0px;width:1.4px;height:121.2px;background:#aebde0"></div>
<div class="a" style="left:1534.1px;top:1635.2px;width:1.4px;height:624.1px;background:#c9ccd6"></div>
<div class="a" style="left:1616.7px;top:1514.0px;width:1.4px;height:121.2px;background:#aebde0"></div>
<div class="a" style="left:1616.7px;top:1635.2px;width:1.4px;height:624.1px;background:#c9ccd6"></div>
<div class="a" style="left:1699.8px;top:1514.0px;width:1.4px;height:121.2px;background:#aebde0"></div>
<div class="a" style="left:1699.8px;top:1635.2px;width:1.4px;height:624.1px;background:#c9ccd6"></div>
<div class="a" style="left:1782.8px;top:1514.0px;width:1.4px;height:121.2px;background:#aebde0"></div>
<div class="a" style="left:1782.8px;top:1635.2px;width:1.4px;height:624.1px;background:#c9ccd6"></div>
<div class="a" style="left:1865.8px;top:1514.0px;width:1.4px;height:121.2px;background:#aebde0"></div>
<div class="a" style="left:1865.8px;top:1635.2px;width:1.4px;height:624.1px;background:#c9ccd6"></div>
<div class="a" style="left:1948.8px;top:1514.0px;width:1.4px;height:121.2px;background:#aebde0"></div>
<div class="a" style="left:1948.8px;top:1635.2px;width:1.4px;height:624.1px;background:#c9ccd6"></div>
<div class="a" style="left:2031.8px;top:1514.0px;width:1.4px;height:121.2px;background:#aebde0"></div>
<div class="a" style="left:2031.8px;top:1635.2px;width:1.4px;height:624.1px;background:#c9ccd6"></div>
<div class="a" style="left:2121.3px;top:1635.2px;width:1.4px;height:624.1px;background:#c9ccd6"></div>
<div class="a" style="left:7.0px;top:2258.6px;width:2115.5px;height:1.4px;background:#c9ccd6"></div>
<div class="a" style="left:684.7px;top:1573.7px;width:186.5px;height:1.4px;background:#aebde0"></div>
<div class="t " style="left:-131.0px;width:400px;text-align:center;top:1549.5px;font-size:45px;line-height:45px;color:#fff">型號</div>
<div class="t " style="left:-14.5px;width:400px;text-align:center;top:1540.0px;font-size:38px;line-height:38px;color:#fff">軸徑</div>
<div class="t " style="left:-16.5px;width:400px;text-align:center;top:1594.0px;font-size:32px;line-height:32px;color:#fff">d1</div>
<div class="t " style="left:77.3px;width:400px;text-align:center;top:1559.0px;font-size:40px;line-height:40px;color:#fff"><span style="display:inline-block;transform:scaleX(0.87)">L</span></div>
<div class="t " style="left:151.5px;width:400px;text-align:center;top:1559.0px;font-size:40px;line-height:40px;color:#fff"><span style="display:inline-block;transform:scaleX(0.87)">L1</span></div>
<div class="t " style="left:225.4px;width:400px;text-align:center;top:1559.0px;font-size:40px;line-height:40px;color:#fff"><span style="display:inline-block;transform:scaleX(0.87)">L2</span></div>
<div class="t " style="left:299.4px;width:400px;text-align:center;top:1559.0px;font-size:40px;line-height:40px;color:#fff"><span style="display:inline-block;transform:scaleX(0.87)">L3</span></div>
<div class="t " style="left:373.4px;width:400px;text-align:center;top:1559.0px;font-size:40px;line-height:40px;color:#fff"><span style="display:inline-block;transform:scaleX(0.87)">B</span></div>
<div class="t " style="left:447.6px;width:400px;text-align:center;top:1559.0px;font-size:40px;line-height:40px;color:#fff"><span style="display:inline-block;transform:scaleX(0.87)">H</span></div>
<div class="t " style="left:531.2px;width:400px;text-align:center;top:1532.5px;font-size:39px;line-height:39px;color:#fff">b</div>
<div class="t " style="left:624.5px;width:400px;text-align:center;top:1532.5px;font-size:39px;line-height:39px;color:#fff">h</div>
<div class="t" style="left:698.5px;top:1586.0px;font-size:46px;line-height:46px;color:#fff"><span style="display:inline-block;transform:scaleX(0.8);transform-origin:0 50%">±</span></div>
<div class="t" style="left:721.5px;top:1589.5px;font-size:40px;line-height:40px;color:#fff"><span style="display:inline-block;transform:scaleX(0.59);transform-origin:0 50%">0.02</span></div>
<div class="t" style="left:788.5px;top:1596.5px;font-size:33px;line-height:33px;color:#fff"><span style="display:inline-block;transform:scaleX(0.8);transform-origin:0 50%">±</span></div>
<div class="t" style="left:799.5px;top:1590.5px;font-size:40px;line-height:40px;color:#fff"><span style="display:inline-block;transform:scaleX(0.62);transform-origin:0 50%">0.02</span></div>
<div class="t " style="left:712.6px;width:400px;text-align:center;top:1558.5px;font-size:40px;line-height:40px;color:#fff"><span style="display:inline-block;transform:scaleX(0.87)">B1</span></div>
<div class="t " style="left:795.4px;width:400px;text-align:center;top:1558.5px;font-size:40px;line-height:40px;color:#fff"><span style="display:inline-block;transform:scaleX(0.87)">H1</span></div>
<div class="t " style="left:878.1px;width:400px;text-align:center;top:1558.5px;font-size:40px;line-height:40px;color:#fff"><span style="display:inline-block;transform:scaleX(0.87)">E</span></div>
<div class="t " style="left:961.0px;width:400px;text-align:center;top:1558.5px;font-size:40px;line-height:40px;color:#fff"><span style="display:inline-block;transform:scaleX(0.87)">P</span></div>
<div class="t " style="left:1044.0px;width:400px;text-align:center;top:1558.5px;font-size:40px;line-height:40px;color:#fff"><span style="display:inline-block;transform:scaleX(0.87)">C1</span></div>
<div class="t " style="left:1127.0px;width:400px;text-align:center;top:1558.5px;font-size:40px;line-height:40px;color:#fff"><span style="display:inline-block;transform:scaleX(0.87)">C2</span></div>
<div class="t " style="left:1210.1px;width:400px;text-align:center;top:1558.5px;font-size:40px;line-height:40px;color:#fff"><span style="display:inline-block;transform:scaleX(0.87)">d2</span></div>
<div class="t " style="left:1293.2px;width:400px;text-align:center;top:1558.5px;font-size:40px;line-height:40px;color:#fff"><span style="display:inline-block;transform:scaleX(0.87)">X</span></div>
<div class="t " style="left:1376.0px;width:400px;text-align:center;top:1558.5px;font-size:40px;line-height:40px;color:#fff"><span style="display:inline-block;transform:scaleX(0.87)">Y</span></div>
<div class="t " style="left:1458.8px;width:400px;text-align:center;top:1558.5px;font-size:40px;line-height:40px;color:#fff"><span style="display:inline-block;transform:scaleX(0.87)">Z</span></div>
<div class="t " style="left:1541.9px;width:400px;text-align:center;top:1558.5px;font-size:40px;line-height:40px;color:#fff"><span style="display:inline-block;transform:scaleX(0.87)">M</span></div>
<div class="t " style="left:1624.9px;width:400px;text-align:center;top:1558.5px;font-size:40px;line-height:40px;color:#fff"><span style="display:inline-block;transform:scaleX(0.87)">T</span></div>
<div class="t " style="left:1707.9px;width:400px;text-align:center;top:1558.5px;font-size:40px;line-height:40px;color:#fff"><span style="display:inline-block;transform:scaleX(0.87)">G</span></div>
<div class="t " style="left:1790.9px;width:400px;text-align:center;top:1558.5px;font-size:40px;line-height:40px;color:#fff"><span style="display:inline-block;transform:scaleX(0.87)">Q</span></div>
<div class="t " style="left:1877.4px;width:400px;text-align:center;top:1536.5px;font-size:37px;line-height:37px;color:#fff">重量</div>
<div class="t " style="left:1877.4px;width:400px;text-align:center;top:1585.0px;font-size:31px;line-height:31px;color:#fff">(Kgs)</div>
<div class="t " style="left:-131.7px;width:400px;text-align:center;top:1659.1px;font-size:36px;line-height:36px;color:#111"><span style="display:inline-block;transform:scaleX(0.91)">BK10</span></div>
<div class="t " style="left:-14.5px;width:400px;text-align:center;top:1655.1px;font-size:36px;line-height:36px;color:#111"><span style="display:inline-block;transform:scaleX(0.88)">10</span></div>
<div class="t " style="left:77.3px;width:400px;text-align:center;top:1659.1px;font-size:36px;line-height:36px;color:#111"><span style="display:inline-block;transform:scaleX(0.88)">25</span></div>
<div class="t " style="left:151.5px;width:400px;text-align:center;top:1659.1px;font-size:36px;line-height:36px;color:#111"><span style="display:inline-block;transform:scaleX(0.88)">5</span></div>
<div class="t " style="left:225.4px;width:400px;text-align:center;top:1659.1px;font-size:36px;line-height:36px;color:#111"><span style="display:inline-block;transform:scaleX(0.88)">29.5</span></div>
<div class="t " style="left:299.4px;width:400px;text-align:center;top:1659.1px;font-size:36px;line-height:36px;color:#111"><span style="display:inline-block;transform:scaleX(0.88)">5</span></div>
<div class="t " style="left:373.4px;width:400px;text-align:center;top:1659.1px;font-size:36px;line-height:36px;color:#111"><span style="display:inline-block;transform:scaleX(0.88)">60</span></div>
<div class="t " style="left:447.6px;width:400px;text-align:center;top:1659.1px;font-size:36px;line-height:36px;color:#111"><span style="display:inline-block;transform:scaleX(0.88)">39</span></div>
<div class="t " style="left:531.2px;width:400px;text-align:center;top:1659.1px;font-size:36px;line-height:36px;color:#111"><span style="display:inline-block;transform:scaleX(0.88)">30</span></div>
<div class="t " style="left:624.5px;width:400px;text-align:center;top:1659.1px;font-size:36px;line-height:36px;color:#111"><span style="display:inline-block;transform:scaleX(0.88)">22</span></div>
<div class="t " style="left:712.6px;width:400px;text-align:center;top:1659.1px;font-size:36px;line-height:36px;color:#111"><span style="display:inline-block;transform:scaleX(0.88)">34</span></div>
<div class="t " style="left:795.4px;width:400px;text-align:center;top:1659.1px;font-size:36px;line-height:36px;color:#111"><span style="display:inline-block;transform:scaleX(0.88)">32.5</span></div>
<div class="t " style="left:878.1px;width:400px;text-align:center;top:1659.1px;font-size:36px;line-height:36px;color:#111"><span style="display:inline-block;transform:scaleX(0.88)">15</span></div>
<div class="t " style="left:961.0px;width:400px;text-align:center;top:1659.1px;font-size:36px;line-height:36px;color:#111"><span style="display:inline-block;transform:scaleX(0.88)">46</span></div>
<div class="t " style="left:1044.0px;width:400px;text-align:center;top:1659.1px;font-size:36px;line-height:36px;color:#111"><span style="display:inline-block;transform:scaleX(0.88)">13</span></div>
<div class="t " style="left:1127.0px;width:400px;text-align:center;top:1659.1px;font-size:36px;line-height:36px;color:#111"><span style="display:inline-block;transform:scaleX(0.88)">6</span></div>
<div class="t " style="left:1210.1px;width:400px;text-align:center;top:1659.1px;font-size:36px;line-height:36px;color:#111"><span style="display:inline-block;transform:scaleX(0.88)">5.5</span></div>
<div class="t " style="left:1293.2px;width:400px;text-align:center;top:1659.1px;font-size:36px;line-height:36px;color:#111"><span style="display:inline-block;transform:scaleX(0.88)">6.6</span></div>
<div class="t " style="left:1376.0px;width:400px;text-align:center;top:1659.1px;font-size:36px;line-height:36px;color:#111"><span style="display:inline-block;transform:scaleX(0.88)">11</span></div>
<div class="t " style="left:1458.8px;width:400px;text-align:center;top:1659.1px;font-size:36px;line-height:36px;color:#111"><span style="display:inline-block;transform:scaleX(0.88)">5</span></div>
<div class="t " style="left:1541.9px;width:400px;text-align:center;top:1659.1px;font-size:36px;line-height:36px;color:#111"><span style="display:inline-block;transform:scaleX(0.88)">M3</span></div>
<div class="t " style="left:1624.9px;width:400px;text-align:center;top:1659.1px;font-size:36px;line-height:36px;color:#111"><span style="display:inline-block;transform:scaleX(0.88)">16</span></div>
<div class="t " style="left:1707.9px;width:400px;text-align:center;top:1659.1px;font-size:36px;line-height:36px;color:#111"><span style="display:inline-block;transform:scaleX(0.88)">15</span></div>
<div class="t " style="left:1790.9px;width:400px;text-align:center;top:1659.1px;font-size:36px;line-height:36px;color:#111"><span style="display:inline-block;transform:scaleX(0.88)">M6</span></div>
<div class="t " style="left:1877.4px;width:400px;text-align:center;top:1659.1px;font-size:36px;line-height:36px;color:#111"><span style="display:inline-block;transform:scaleX(0.88)">0.4</span></div>
<div class="t " style="left:-131.7px;width:400px;text-align:center;top:1728.3px;font-size:36px;line-height:36px;color:#111"><span style="display:inline-block;transform:scaleX(0.91)">BK12</span></div>
<div class="t " style="left:-14.5px;width:400px;text-align:center;top:1724.3px;font-size:36px;line-height:36px;color:#111"><span style="display:inline-block;transform:scaleX(0.88)">12</span></div>
<div class="t " style="left:77.3px;width:400px;text-align:center;top:1728.3px;font-size:36px;line-height:36px;color:#111"><span style="display:inline-block;transform:scaleX(0.88)">25</span></div>
<div class="t " style="left:151.5px;width:400px;text-align:center;top:1728.3px;font-size:36px;line-height:36px;color:#111"><span style="display:inline-block;transform:scaleX(0.88)">5</span></div>
<div class="t " style="left:225.4px;width:400px;text-align:center;top:1728.3px;font-size:36px;line-height:36px;color:#111"><span style="display:inline-block;transform:scaleX(0.88)">29.6</span></div>
<div class="t " style="left:299.4px;width:400px;text-align:center;top:1728.3px;font-size:36px;line-height:36px;color:#111"><span style="display:inline-block;transform:scaleX(0.88)">5</span></div>
<div class="t " style="left:373.4px;width:400px;text-align:center;top:1728.3px;font-size:36px;line-height:36px;color:#111"><span style="display:inline-block;transform:scaleX(0.88)">60</span></div>
<div class="t " style="left:447.6px;width:400px;text-align:center;top:1728.3px;font-size:36px;line-height:36px;color:#111"><span style="display:inline-block;transform:scaleX(0.88)">43</span></div>
<div class="t " style="left:531.2px;width:400px;text-align:center;top:1728.3px;font-size:36px;line-height:36px;color:#111"><span style="display:inline-block;transform:scaleX(0.88)">30</span></div>
<div class="t " style="left:624.5px;width:400px;text-align:center;top:1728.3px;font-size:36px;line-height:36px;color:#111"><span style="display:inline-block;transform:scaleX(0.88)">25</span></div>
<div class="t " style="left:712.6px;width:400px;text-align:center;top:1728.3px;font-size:36px;line-height:36px;color:#111"><span style="display:inline-block;transform:scaleX(0.88)">34</span></div>
<div class="t " style="left:795.4px;width:400px;text-align:center;top:1728.3px;font-size:36px;line-height:36px;color:#111"><span style="display:inline-block;transform:scaleX(0.88)">32.5</span></div>
<div class="t " style="left:878.1px;width:400px;text-align:center;top:1728.3px;font-size:36px;line-height:36px;color:#111"><span style="display:inline-block;transform:scaleX(0.88)">18</span></div>
<div class="t " style="left:961.0px;width:400px;text-align:center;top:1728.3px;font-size:36px;line-height:36px;color:#111"><span style="display:inline-block;transform:scaleX(0.88)">46</span></div>
<div class="t " style="left:1044.0px;width:400px;text-align:center;top:1728.3px;font-size:36px;line-height:36px;color:#111"><span style="display:inline-block;transform:scaleX(0.88)">13</span></div>
<div class="t " style="left:1127.0px;width:400px;text-align:center;top:1728.3px;font-size:36px;line-height:36px;color:#111"><span style="display:inline-block;transform:scaleX(0.88)">6</span></div>
<div class="t " style="left:1210.1px;width:400px;text-align:center;top:1728.3px;font-size:36px;line-height:36px;color:#111"><span style="display:inline-block;transform:scaleX(0.88)">5.5</span></div>
<div class="t " style="left:1293.2px;width:400px;text-align:center;top:1728.3px;font-size:36px;line-height:36px;color:#111"><span style="display:inline-block;transform:scaleX(0.88)">6.6</span></div>
<div class="t " style="left:1376.0px;width:400px;text-align:center;top:1728.3px;font-size:36px;line-height:36px;color:#111"><span style="display:inline-block;transform:scaleX(0.88)">11</span></div>
<div class="t " style="left:1458.8px;width:400px;text-align:center;top:1728.3px;font-size:36px;line-height:36px;color:#111"><span style="display:inline-block;transform:scaleX(0.88)">1.5</span></div>
<div class="t " style="left:1541.9px;width:400px;text-align:center;top:1728.3px;font-size:36px;line-height:36px;color:#111"><span style="display:inline-block;transform:scaleX(0.88)">M4</span></div>
<div class="t " style="left:1624.9px;width:400px;text-align:center;top:1728.3px;font-size:36px;line-height:36px;color:#111"><span style="display:inline-block;transform:scaleX(0.88)">19</span></div>
<div class="t " style="left:1707.9px;width:400px;text-align:center;top:1728.3px;font-size:36px;line-height:36px;color:#111"><span style="display:inline-block;transform:scaleX(0.88)">18</span></div>
<div class="t " style="left:1790.9px;width:400px;text-align:center;top:1728.3px;font-size:36px;line-height:36px;color:#111"><span style="display:inline-block;transform:scaleX(0.88)">M6</span></div>
<div class="t " style="left:1877.4px;width:400px;text-align:center;top:1728.3px;font-size:36px;line-height:36px;color:#111"><span style="display:inline-block;transform:scaleX(0.88)">0.42</span></div>
<div class="t " style="left:-131.7px;width:400px;text-align:center;top:1795.9px;font-size:36px;line-height:36px;color:#111"><span style="display:inline-block;transform:scaleX(0.91)">BK15</span></div>
<div class="t " style="left:-14.5px;width:400px;text-align:center;top:1791.9px;font-size:36px;line-height:36px;color:#111"><span style="display:inline-block;transform:scaleX(0.88)">15</span></div>
<div class="t " style="left:77.3px;width:400px;text-align:center;top:1795.9px;font-size:36px;line-height:36px;color:#111"><span style="display:inline-block;transform:scaleX(0.88)">27</span></div>
<div class="t " style="left:151.5px;width:400px;text-align:center;top:1795.9px;font-size:36px;line-height:36px;color:#111"><span style="display:inline-block;transform:scaleX(0.88)">6</span></div>
<div class="t " style="left:225.4px;width:400px;text-align:center;top:1795.9px;font-size:36px;line-height:36px;color:#111"><span style="display:inline-block;transform:scaleX(0.88)">32</span></div>
<div class="t " style="left:299.4px;width:400px;text-align:center;top:1795.9px;font-size:36px;line-height:36px;color:#111"><span style="display:inline-block;transform:scaleX(0.88)">6</span></div>
<div class="t " style="left:373.4px;width:400px;text-align:center;top:1795.9px;font-size:36px;line-height:36px;color:#111"><span style="display:inline-block;transform:scaleX(0.88)">70</span></div>
<div class="t " style="left:447.6px;width:400px;text-align:center;top:1795.9px;font-size:36px;line-height:36px;color:#111"><span style="display:inline-block;transform:scaleX(0.88)">48</span></div>
<div class="t " style="left:531.2px;width:400px;text-align:center;top:1795.9px;font-size:36px;line-height:36px;color:#111"><span style="display:inline-block;transform:scaleX(0.88)">35</span></div>
<div class="t " style="left:624.5px;width:400px;text-align:center;top:1795.9px;font-size:36px;line-height:36px;color:#111"><span style="display:inline-block;transform:scaleX(0.88)">28</span></div>
<div class="t " style="left:712.6px;width:400px;text-align:center;top:1795.9px;font-size:36px;line-height:36px;color:#111"><span style="display:inline-block;transform:scaleX(0.88)">40</span></div>
<div class="t " style="left:795.4px;width:400px;text-align:center;top:1795.9px;font-size:36px;line-height:36px;color:#111"><span style="display:inline-block;transform:scaleX(0.88)">38</span></div>
<div class="t " style="left:878.1px;width:400px;text-align:center;top:1795.9px;font-size:36px;line-height:36px;color:#111"><span style="display:inline-block;transform:scaleX(0.88)">18</span></div>
<div class="t " style="left:961.0px;width:400px;text-align:center;top:1795.9px;font-size:36px;line-height:36px;color:#111"><span style="display:inline-block;transform:scaleX(0.88)">54</span></div>
<div class="t " style="left:1044.0px;width:400px;text-align:center;top:1795.9px;font-size:36px;line-height:36px;color:#111"><span style="display:inline-block;transform:scaleX(0.88)">15</span></div>
<div class="t " style="left:1127.0px;width:400px;text-align:center;top:1795.9px;font-size:36px;line-height:36px;color:#111"><span style="display:inline-block;transform:scaleX(0.88)">6</span></div>
<div class="t " style="left:1210.1px;width:400px;text-align:center;top:1795.9px;font-size:36px;line-height:36px;color:#111"><span style="display:inline-block;transform:scaleX(0.88)">5.5</span></div>
<div class="t " style="left:1293.2px;width:400px;text-align:center;top:1795.9px;font-size:36px;line-height:36px;color:#111"><span style="display:inline-block;transform:scaleX(0.88)">6.6</span></div>
<div class="t " style="left:1376.0px;width:400px;text-align:center;top:1795.9px;font-size:36px;line-height:36px;color:#111"><span style="display:inline-block;transform:scaleX(0.88)">11</span></div>
<div class="t " style="left:1458.8px;width:400px;text-align:center;top:1795.9px;font-size:36px;line-height:36px;color:#111"><span style="display:inline-block;transform:scaleX(0.88)">6.5</span></div>
<div class="t " style="left:1541.9px;width:400px;text-align:center;top:1795.9px;font-size:36px;line-height:36px;color:#111"><span style="display:inline-block;transform:scaleX(0.88)">M4</span></div>
<div class="t " style="left:1624.9px;width:400px;text-align:center;top:1795.9px;font-size:36px;line-height:36px;color:#111"><span style="display:inline-block;transform:scaleX(0.88)">22</span></div>
<div class="t " style="left:1707.9px;width:400px;text-align:center;top:1795.9px;font-size:36px;line-height:36px;color:#111"><span style="display:inline-block;transform:scaleX(0.88)">18</span></div>
<div class="t " style="left:1790.9px;width:400px;text-align:center;top:1795.9px;font-size:36px;line-height:36px;color:#111"><span style="display:inline-block;transform:scaleX(0.88)">M6</span></div>
<div class="t " style="left:1877.4px;width:400px;text-align:center;top:1795.9px;font-size:36px;line-height:36px;color:#111"><span style="display:inline-block;transform:scaleX(0.88)">0.59</span></div>
<div class="t " style="left:-131.7px;width:400px;text-align:center;top:1865.1px;font-size:36px;line-height:36px;color:#111"><span style="display:inline-block;transform:scaleX(0.91)">BK17</span></div>
<div class="t " style="left:-14.5px;width:400px;text-align:center;top:1861.1px;font-size:36px;line-height:36px;color:#111"><span style="display:inline-block;transform:scaleX(0.88)">17</span></div>
<div class="t " style="left:77.3px;width:400px;text-align:center;top:1865.1px;font-size:36px;line-height:36px;color:#111"><span style="display:inline-block;transform:scaleX(0.88)">35</span></div>
<div class="t " style="left:151.5px;width:400px;text-align:center;top:1865.1px;font-size:36px;line-height:36px;color:#111"><span style="display:inline-block;transform:scaleX(0.88)">9</span></div>
<div class="t " style="left:225.4px;width:400px;text-align:center;top:1865.1px;font-size:36px;line-height:36px;color:#111"><span style="display:inline-block;transform:scaleX(0.88)">44</span></div>
<div class="t " style="left:299.4px;width:400px;text-align:center;top:1865.1px;font-size:36px;line-height:36px;color:#111"><span style="display:inline-block;transform:scaleX(0.88)">7</span></div>
<div class="t " style="left:373.4px;width:400px;text-align:center;top:1865.1px;font-size:36px;line-height:36px;color:#111"><span style="display:inline-block;transform:scaleX(0.88)">86</span></div>
<div class="t " style="left:447.6px;width:400px;text-align:center;top:1865.1px;font-size:36px;line-height:36px;color:#111"><span style="display:inline-block;transform:scaleX(0.88)">64</span></div>
<div class="t " style="left:531.2px;width:400px;text-align:center;top:1865.1px;font-size:36px;line-height:36px;color:#111"><span style="display:inline-block;transform:scaleX(0.88)">43</span></div>
<div class="t " style="left:624.5px;width:400px;text-align:center;top:1865.1px;font-size:36px;line-height:36px;color:#111"><span style="display:inline-block;transform:scaleX(0.88)">39</span></div>
<div class="t " style="left:712.6px;width:400px;text-align:center;top:1865.1px;font-size:36px;line-height:36px;color:#111"><span style="display:inline-block;transform:scaleX(0.88)">50</span></div>
<div class="t " style="left:795.4px;width:400px;text-align:center;top:1865.1px;font-size:36px;line-height:36px;color:#111"><span style="display:inline-block;transform:scaleX(0.88)">55</span></div>
<div class="t " style="left:878.1px;width:400px;text-align:center;top:1865.1px;font-size:36px;line-height:36px;color:#111"><span style="display:inline-block;transform:scaleX(0.88)">28</span></div>
<div class="t " style="left:961.0px;width:400px;text-align:center;top:1865.1px;font-size:36px;line-height:36px;color:#111"><span style="display:inline-block;transform:scaleX(0.88)">68</span></div>
<div class="t " style="left:1044.0px;width:400px;text-align:center;top:1865.1px;font-size:36px;line-height:36px;color:#111"><span style="display:inline-block;transform:scaleX(0.88)">19</span></div>
<div class="t " style="left:1127.0px;width:400px;text-align:center;top:1865.1px;font-size:36px;line-height:36px;color:#111"><span style="display:inline-block;transform:scaleX(0.88)">8</span></div>
<div class="t " style="left:1210.1px;width:400px;text-align:center;top:1865.1px;font-size:36px;line-height:36px;color:#111"><span style="display:inline-block;transform:scaleX(0.88)">6.6</span></div>
<div class="t " style="left:1293.2px;width:400px;text-align:center;top:1865.1px;font-size:36px;line-height:36px;color:#111"><span style="display:inline-block;transform:scaleX(0.88)">9</span></div>
<div class="t " style="left:1376.0px;width:400px;text-align:center;top:1865.1px;font-size:36px;line-height:36px;color:#111"><span style="display:inline-block;transform:scaleX(0.88)">14</span></div>
<div class="t " style="left:1458.8px;width:400px;text-align:center;top:1865.1px;font-size:36px;line-height:36px;color:#111"><span style="display:inline-block;transform:scaleX(0.88)">8.5</span></div>
<div class="t " style="left:1541.9px;width:400px;text-align:center;top:1865.1px;font-size:36px;line-height:36px;color:#111"><span style="display:inline-block;transform:scaleX(0.88)">M4</span></div>
<div class="t " style="left:1624.9px;width:400px;text-align:center;top:1865.1px;font-size:36px;line-height:36px;color:#111"><span style="display:inline-block;transform:scaleX(0.88)">24</span></div>
<div class="t " style="left:1707.9px;width:400px;text-align:center;top:1865.1px;font-size:36px;line-height:36px;color:#111"><span style="display:inline-block;transform:scaleX(0.88)">30</span></div>
<div class="t " style="left:1790.9px;width:400px;text-align:center;top:1865.1px;font-size:36px;line-height:36px;color:#111"><span style="display:inline-block;transform:scaleX(0.88)">M6</span></div>
<div class="t " style="left:1877.4px;width:400px;text-align:center;top:1865.1px;font-size:36px;line-height:36px;color:#111"><span style="display:inline-block;transform:scaleX(0.88)">1.34</span></div>
<div class="t " style="left:-131.7px;width:400px;text-align:center;top:1933.4px;font-size:36px;line-height:36px;color:#111"><span style="display:inline-block;transform:scaleX(0.91)">BK20</span></div>
<div class="t " style="left:-14.5px;width:400px;text-align:center;top:1929.4px;font-size:36px;line-height:36px;color:#111"><span style="display:inline-block;transform:scaleX(0.88)">20</span></div>
<div class="t " style="left:77.3px;width:400px;text-align:center;top:1933.4px;font-size:36px;line-height:36px;color:#111"><span style="display:inline-block;transform:scaleX(0.88)">35</span></div>
<div class="t " style="left:151.5px;width:400px;text-align:center;top:1933.4px;font-size:36px;line-height:36px;color:#111"><span style="display:inline-block;transform:scaleX(0.88)">8</span></div>
<div class="t " style="left:225.4px;width:400px;text-align:center;top:1933.4px;font-size:36px;line-height:36px;color:#111"><span style="display:inline-block;transform:scaleX(0.88)">43</span></div>
<div class="t " style="left:299.4px;width:400px;text-align:center;top:1933.4px;font-size:36px;line-height:36px;color:#111"><span style="display:inline-block;transform:scaleX(0.88)">8</span></div>
<div class="t " style="left:373.4px;width:400px;text-align:center;top:1933.4px;font-size:36px;line-height:36px;color:#111"><span style="display:inline-block;transform:scaleX(0.88)">88</span></div>
<div class="t " style="left:447.6px;width:400px;text-align:center;top:1933.4px;font-size:36px;line-height:36px;color:#111"><span style="display:inline-block;transform:scaleX(0.88)">60</span></div>
<div class="t " style="left:531.2px;width:400px;text-align:center;top:1933.4px;font-size:36px;line-height:36px;color:#111"><span style="display:inline-block;transform:scaleX(0.88)">44</span></div>
<div class="t " style="left:624.5px;width:400px;text-align:center;top:1933.4px;font-size:36px;line-height:36px;color:#111"><span style="display:inline-block;transform:scaleX(0.88)">34</span></div>
<div class="t " style="left:712.6px;width:400px;text-align:center;top:1933.4px;font-size:36px;line-height:36px;color:#111"><span style="display:inline-block;transform:scaleX(0.88)">52</span></div>
<div class="t " style="left:795.4px;width:400px;text-align:center;top:1933.4px;font-size:36px;line-height:36px;color:#111"><span style="display:inline-block;transform:scaleX(0.88)">50</span></div>
<div class="t " style="left:878.1px;width:400px;text-align:center;top:1933.4px;font-size:36px;line-height:36px;color:#111"><span style="display:inline-block;transform:scaleX(0.88)">22</span></div>
<div class="t " style="left:961.0px;width:400px;text-align:center;top:1933.4px;font-size:36px;line-height:36px;color:#111"><span style="display:inline-block;transform:scaleX(0.88)">70</span></div>
<div class="t " style="left:1044.0px;width:400px;text-align:center;top:1933.4px;font-size:36px;line-height:36px;color:#111"><span style="display:inline-block;transform:scaleX(0.88)">19</span></div>
<div class="t " style="left:1127.0px;width:400px;text-align:center;top:1933.4px;font-size:36px;line-height:36px;color:#111"><span style="display:inline-block;transform:scaleX(0.88)">8</span></div>
<div class="t " style="left:1210.1px;width:400px;text-align:center;top:1933.4px;font-size:36px;line-height:36px;color:#111"><span style="display:inline-block;transform:scaleX(0.88)">6.6</span></div>
<div class="t " style="left:1293.2px;width:400px;text-align:center;top:1933.4px;font-size:36px;line-height:36px;color:#111"><span style="display:inline-block;transform:scaleX(0.88)">9</span></div>
<div class="t " style="left:1376.0px;width:400px;text-align:center;top:1933.4px;font-size:36px;line-height:36px;color:#111"><span style="display:inline-block;transform:scaleX(0.88)">14</span></div>
<div class="t " style="left:1458.8px;width:400px;text-align:center;top:1933.4px;font-size:36px;line-height:36px;color:#111"><span style="display:inline-block;transform:scaleX(0.88)">8.5</span></div>
<div class="t " style="left:1541.9px;width:400px;text-align:center;top:1933.4px;font-size:36px;line-height:36px;color:#111"><span style="display:inline-block;transform:scaleX(0.88)">M4</span></div>
<div class="t " style="left:1624.9px;width:400px;text-align:center;top:1933.4px;font-size:36px;line-height:36px;color:#111"><span style="display:inline-block;transform:scaleX(0.88)">30</span></div>
<div class="t " style="left:1707.9px;width:400px;text-align:center;top:1933.4px;font-size:36px;line-height:36px;color:#111"><span style="display:inline-block;transform:scaleX(0.88)">24</span></div>
<div class="t " style="left:1790.9px;width:400px;text-align:center;top:1933.4px;font-size:36px;line-height:36px;color:#111"><span style="display:inline-block;transform:scaleX(0.88)">M6</span></div>
<div class="t " style="left:1877.4px;width:400px;text-align:center;top:1933.4px;font-size:36px;line-height:36px;color:#111"><span style="display:inline-block;transform:scaleX(0.88)">1.2</span></div>
<div class="t " style="left:-131.7px;width:400px;text-align:center;top:2002.9px;font-size:36px;line-height:36px;color:#111"><span style="display:inline-block;transform:scaleX(0.91)">BK25</span></div>
<div class="t " style="left:-14.5px;width:400px;text-align:center;top:1998.9px;font-size:36px;line-height:36px;color:#111"><span style="display:inline-block;transform:scaleX(0.88)">25</span></div>
<div class="t " style="left:77.3px;width:400px;text-align:center;top:2002.9px;font-size:36px;line-height:36px;color:#111"><span style="display:inline-block;transform:scaleX(0.88)">42</span></div>
<div class="t " style="left:151.5px;width:400px;text-align:center;top:2002.9px;font-size:36px;line-height:36px;color:#111"><span style="display:inline-block;transform:scaleX(0.88)">12</span></div>
<div class="t " style="left:225.4px;width:400px;text-align:center;top:2002.9px;font-size:36px;line-height:36px;color:#111"><span style="display:inline-block;transform:scaleX(0.88)">54</span></div>
<div class="t " style="left:299.4px;width:400px;text-align:center;top:2002.9px;font-size:36px;line-height:36px;color:#111"><span style="display:inline-block;transform:scaleX(0.88)">9</span></div>
<div class="t " style="left:373.4px;width:400px;text-align:center;top:2002.9px;font-size:36px;line-height:36px;color:#111"><span style="display:inline-block;transform:scaleX(0.88)">106</span></div>
<div class="t " style="left:447.6px;width:400px;text-align:center;top:2002.9px;font-size:36px;line-height:36px;color:#111"><span style="display:inline-block;transform:scaleX(0.88)">80</span></div>
<div class="t " style="left:531.2px;width:400px;text-align:center;top:2002.9px;font-size:36px;line-height:36px;color:#111"><span style="display:inline-block;transform:scaleX(0.88)">53</span></div>
<div class="t " style="left:624.5px;width:400px;text-align:center;top:2002.9px;font-size:36px;line-height:36px;color:#111"><span style="display:inline-block;transform:scaleX(0.88)">48</span></div>
<div class="t " style="left:712.6px;width:400px;text-align:center;top:2002.9px;font-size:36px;line-height:36px;color:#111"><span style="display:inline-block;transform:scaleX(0.88)">64</span></div>
<div class="t " style="left:795.4px;width:400px;text-align:center;top:2002.9px;font-size:36px;line-height:36px;color:#111"><span style="display:inline-block;transform:scaleX(0.88)">70</span></div>
<div class="t " style="left:878.1px;width:400px;text-align:center;top:2002.9px;font-size:36px;line-height:36px;color:#111"><span style="display:inline-block;transform:scaleX(0.88)">33</span></div>
<div class="t " style="left:961.0px;width:400px;text-align:center;top:2002.9px;font-size:36px;line-height:36px;color:#111"><span style="display:inline-block;transform:scaleX(0.88)">85</span></div>
<div class="t " style="left:1044.0px;width:400px;text-align:center;top:2002.9px;font-size:36px;line-height:36px;color:#111"><span style="display:inline-block;transform:scaleX(0.88)">22</span></div>
<div class="t " style="left:1127.0px;width:400px;text-align:center;top:2002.9px;font-size:36px;line-height:36px;color:#111"><span style="display:inline-block;transform:scaleX(0.88)">10</span></div>
<div class="t " style="left:1210.1px;width:400px;text-align:center;top:2002.9px;font-size:36px;line-height:36px;color:#111"><span style="display:inline-block;transform:scaleX(0.88)">9</span></div>
<div class="t " style="left:1293.2px;width:400px;text-align:center;top:2002.9px;font-size:36px;line-height:36px;color:#111"><span style="display:inline-block;transform:scaleX(0.88)">11</span></div>
<div class="t " style="left:1376.0px;width:400px;text-align:center;top:2002.9px;font-size:36px;line-height:36px;color:#111"><span style="display:inline-block;transform:scaleX(0.88)">17</span></div>
<div class="t " style="left:1458.8px;width:400px;text-align:center;top:2002.9px;font-size:36px;line-height:36px;color:#111"><span style="display:inline-block;transform:scaleX(0.88)">11</span></div>
<div class="t " style="left:1541.9px;width:400px;text-align:center;top:2002.9px;font-size:36px;line-height:36px;color:#111"><span style="display:inline-block;transform:scaleX(0.88)">M6</span></div>
<div class="t " style="left:1624.9px;width:400px;text-align:center;top:2002.9px;font-size:36px;line-height:36px;color:#111"><span style="display:inline-block;transform:scaleX(0.88)">35</span></div>
<div class="t " style="left:1707.9px;width:400px;text-align:center;top:2002.9px;font-size:36px;line-height:36px;color:#111"><span style="display:inline-block;transform:scaleX(0.88)">37</span></div>
<div class="t " style="left:1790.9px;width:400px;text-align:center;top:2002.9px;font-size:36px;line-height:36px;color:#111"><span style="display:inline-block;transform:scaleX(0.88)">M6</span></div>
<div class="t " style="left:1877.4px;width:400px;text-align:center;top:2002.9px;font-size:36px;line-height:36px;color:#111"><span style="display:inline-block;transform:scaleX(0.88)">2.37</span></div>
<div class="t " style="left:-131.7px;width:400px;text-align:center;top:2071.3px;font-size:36px;line-height:36px;color:#111"><span style="display:inline-block;transform:scaleX(0.91)">BK30</span></div>
<div class="t " style="left:-14.5px;width:400px;text-align:center;top:2067.3px;font-size:36px;line-height:36px;color:#111"><span style="display:inline-block;transform:scaleX(0.88)">30</span></div>
<div class="t " style="left:77.3px;width:400px;text-align:center;top:2071.3px;font-size:36px;line-height:36px;color:#111"><span style="display:inline-block;transform:scaleX(0.88)">45</span></div>
<div class="t " style="left:151.5px;width:400px;text-align:center;top:2071.3px;font-size:36px;line-height:36px;color:#111"><span style="display:inline-block;transform:scaleX(0.88)">14</span></div>
<div class="t " style="left:225.4px;width:400px;text-align:center;top:2071.3px;font-size:36px;line-height:36px;color:#111"><span style="display:inline-block;transform:scaleX(0.88)">61</span></div>
<div class="t " style="left:299.4px;width:400px;text-align:center;top:2071.3px;font-size:36px;line-height:36px;color:#111"><span style="display:inline-block;transform:scaleX(0.88)">9</span></div>
<div class="t " style="left:373.4px;width:400px;text-align:center;top:2071.3px;font-size:36px;line-height:36px;color:#111"><span style="display:inline-block;transform:scaleX(0.88)">128</span></div>
<div class="t " style="left:447.6px;width:400px;text-align:center;top:2071.3px;font-size:36px;line-height:36px;color:#111"><span style="display:inline-block;transform:scaleX(0.88)">89</span></div>
<div class="t " style="left:531.2px;width:400px;text-align:center;top:2071.3px;font-size:36px;line-height:36px;color:#111"><span style="display:inline-block;transform:scaleX(0.88)">64</span></div>
<div class="t " style="left:624.5px;width:400px;text-align:center;top:2071.3px;font-size:36px;line-height:36px;color:#111"><span style="display:inline-block;transform:scaleX(0.88)">51</span></div>
<div class="t " style="left:712.6px;width:400px;text-align:center;top:2071.3px;font-size:36px;line-height:36px;color:#111"><span style="display:inline-block;transform:scaleX(0.88)">76</span></div>
<div class="t " style="left:795.4px;width:400px;text-align:center;top:2071.3px;font-size:36px;line-height:36px;color:#111"><span style="display:inline-block;transform:scaleX(0.88)">78</span></div>
<div class="t " style="left:878.1px;width:400px;text-align:center;top:2071.3px;font-size:36px;line-height:36px;color:#111"><span style="display:inline-block;transform:scaleX(0.88)">33</span></div>
<div class="t " style="left:961.0px;width:400px;text-align:center;top:2071.3px;font-size:36px;line-height:36px;color:#111"><span style="display:inline-block;transform:scaleX(0.88)">102</span></div>
<div class="t " style="left:1044.0px;width:400px;text-align:center;top:2071.3px;font-size:36px;line-height:36px;color:#111"><span style="display:inline-block;transform:scaleX(0.88)">23</span></div>
<div class="t " style="left:1127.0px;width:400px;text-align:center;top:2071.3px;font-size:36px;line-height:36px;color:#111"><span style="display:inline-block;transform:scaleX(0.88)">11</span></div>
<div class="t " style="left:1210.1px;width:400px;text-align:center;top:2071.3px;font-size:36px;line-height:36px;color:#111"><span style="display:inline-block;transform:scaleX(0.88)">11</span></div>
<div class="t " style="left:1293.2px;width:400px;text-align:center;top:2071.3px;font-size:36px;line-height:36px;color:#111"><span style="display:inline-block;transform:scaleX(0.88)">14</span></div>
<div class="t " style="left:1376.0px;width:400px;text-align:center;top:2071.3px;font-size:36px;line-height:36px;color:#111"><span style="display:inline-block;transform:scaleX(0.88)">20</span></div>
<div class="t " style="left:1458.8px;width:400px;text-align:center;top:2071.3px;font-size:36px;line-height:36px;color:#111"><span style="display:inline-block;transform:scaleX(0.88)">13</span></div>
<div class="t " style="left:1541.9px;width:400px;text-align:center;top:2071.3px;font-size:36px;line-height:36px;color:#111"><span style="display:inline-block;transform:scaleX(0.88)">M6</span></div>
<div class="t " style="left:1624.9px;width:400px;text-align:center;top:2071.3px;font-size:36px;line-height:36px;color:#111"><span style="display:inline-block;transform:scaleX(0.88)">40</span></div>
<div class="t " style="left:1707.9px;width:400px;text-align:center;top:2071.3px;font-size:36px;line-height:36px;color:#111"><span style="display:inline-block;transform:scaleX(0.88)">37</span></div>
<div class="t " style="left:1790.9px;width:400px;text-align:center;top:2071.3px;font-size:36px;line-height:36px;color:#111"><span style="display:inline-block;transform:scaleX(0.88)">M6</span></div>
<div class="t " style="left:1877.4px;width:400px;text-align:center;top:2071.3px;font-size:36px;line-height:36px;color:#111"><span style="display:inline-block;transform:scaleX(0.88)">3.37</span></div>
<div class="t " style="left:-131.7px;width:400px;text-align:center;top:2139.8px;font-size:36px;line-height:36px;color:#111"><span style="display:inline-block;transform:scaleX(0.91)">BK35</span></div>
<div class="t " style="left:-14.5px;width:400px;text-align:center;top:2135.8px;font-size:36px;line-height:36px;color:#111"><span style="display:inline-block;transform:scaleX(0.88)">35</span></div>
<div class="t " style="left:77.3px;width:400px;text-align:center;top:2139.8px;font-size:36px;line-height:36px;color:#111"><span style="display:inline-block;transform:scaleX(0.88)">50</span></div>
<div class="t " style="left:151.5px;width:400px;text-align:center;top:2139.8px;font-size:36px;line-height:36px;color:#111"><span style="display:inline-block;transform:scaleX(0.88)">14</span></div>
<div class="t " style="left:225.4px;width:400px;text-align:center;top:2139.8px;font-size:36px;line-height:36px;color:#111"><span style="display:inline-block;transform:scaleX(0.88)">67</span></div>
<div class="t " style="left:299.4px;width:400px;text-align:center;top:2139.8px;font-size:36px;line-height:36px;color:#111"><span style="display:inline-block;transform:scaleX(0.88)">12</span></div>
<div class="t " style="left:373.4px;width:400px;text-align:center;top:2139.8px;font-size:36px;line-height:36px;color:#111"><span style="display:inline-block;transform:scaleX(0.88)">140</span></div>
<div class="t " style="left:447.6px;width:400px;text-align:center;top:2139.8px;font-size:36px;line-height:36px;color:#111"><span style="display:inline-block;transform:scaleX(0.88)">96</span></div>
<div class="t " style="left:531.2px;width:400px;text-align:center;top:2139.8px;font-size:36px;line-height:36px;color:#111"><span style="display:inline-block;transform:scaleX(0.88)">70</span></div>
<div class="t " style="left:624.5px;width:400px;text-align:center;top:2139.8px;font-size:36px;line-height:36px;color:#111"><span style="display:inline-block;transform:scaleX(0.88)">52</span></div>
<div class="t " style="left:712.6px;width:400px;text-align:center;top:2139.8px;font-size:36px;line-height:36px;color:#111"><span style="display:inline-block;transform:scaleX(0.88)">88</span></div>
<div class="t " style="left:795.4px;width:400px;text-align:center;top:2139.8px;font-size:36px;line-height:36px;color:#111"><span style="display:inline-block;transform:scaleX(0.88)">79</span></div>
<div class="t " style="left:878.1px;width:400px;text-align:center;top:2139.8px;font-size:36px;line-height:36px;color:#111"><span style="display:inline-block;transform:scaleX(0.88)">35</span></div>
<div class="t " style="left:961.0px;width:400px;text-align:center;top:2139.8px;font-size:36px;line-height:36px;color:#111"><span style="display:inline-block;transform:scaleX(0.88)">114</span></div>
<div class="t " style="left:1044.0px;width:400px;text-align:center;top:2139.8px;font-size:36px;line-height:36px;color:#111"><span style="display:inline-block;transform:scaleX(0.88)">26</span></div>
<div class="t " style="left:1127.0px;width:400px;text-align:center;top:2139.8px;font-size:36px;line-height:36px;color:#111"><span style="display:inline-block;transform:scaleX(0.88)">12</span></div>
<div class="t " style="left:1210.1px;width:400px;text-align:center;top:2139.8px;font-size:36px;line-height:36px;color:#111"><span style="display:inline-block;transform:scaleX(0.88)">11</span></div>
<div class="t " style="left:1293.2px;width:400px;text-align:center;top:2139.8px;font-size:36px;line-height:36px;color:#111"><span style="display:inline-block;transform:scaleX(0.88)">14</span></div>
<div class="t " style="left:1376.0px;width:400px;text-align:center;top:2139.8px;font-size:36px;line-height:36px;color:#111"><span style="display:inline-block;transform:scaleX(0.88)">20</span></div>
<div class="t " style="left:1458.8px;width:400px;text-align:center;top:2139.8px;font-size:36px;line-height:36px;color:#111"><span style="display:inline-block;transform:scaleX(0.88)">13</span></div>
<div class="t " style="left:1541.9px;width:400px;text-align:center;top:2139.8px;font-size:36px;line-height:36px;color:#111"><span style="display:inline-block;transform:scaleX(0.88)">M6</span></div>
<div class="t " style="left:1624.9px;width:400px;text-align:center;top:2139.8px;font-size:36px;line-height:36px;color:#111"><span style="display:inline-block;transform:scaleX(0.88)">50</span></div>
<div class="t " style="left:1707.9px;width:400px;text-align:center;top:2139.8px;font-size:36px;line-height:36px;color:#111"><span style="display:inline-block;transform:scaleX(0.88)">37</span></div>
<div class="t " style="left:1790.9px;width:400px;text-align:center;top:2139.8px;font-size:36px;line-height:36px;color:#111"><span style="display:inline-block;transform:scaleX(0.88)">M6</span></div>
<div class="t " style="left:1877.4px;width:400px;text-align:center;top:2139.8px;font-size:36px;line-height:36px;color:#111"><span style="display:inline-block;transform:scaleX(0.88)">4.43</span></div>
<div class="t " style="left:-131.7px;width:400px;text-align:center;top:2209.1px;font-size:36px;line-height:36px;color:#111"><span style="display:inline-block;transform:scaleX(0.91)">BK40</span></div>
<div class="t " style="left:-14.5px;width:400px;text-align:center;top:2205.1px;font-size:36px;line-height:36px;color:#111"><span style="display:inline-block;transform:scaleX(0.88)">40</span></div>
<div class="t " style="left:77.3px;width:400px;text-align:center;top:2209.1px;font-size:36px;line-height:36px;color:#111"><span style="display:inline-block;transform:scaleX(0.88)">61</span></div>
<div class="t " style="left:151.5px;width:400px;text-align:center;top:2209.1px;font-size:36px;line-height:36px;color:#111"><span style="display:inline-block;transform:scaleX(0.88)">18</span></div>
<div class="t " style="left:225.4px;width:400px;text-align:center;top:2209.1px;font-size:36px;line-height:36px;color:#111"><span style="display:inline-block;transform:scaleX(0.88)">76</span></div>
<div class="t " style="left:299.4px;width:400px;text-align:center;top:2209.1px;font-size:36px;line-height:36px;color:#111"><span style="display:inline-block;transform:scaleX(0.88)">15</span></div>
<div class="t " style="left:373.4px;width:400px;text-align:center;top:2209.1px;font-size:36px;line-height:36px;color:#111"><span style="display:inline-block;transform:scaleX(0.88)">160</span></div>
<div class="t " style="left:447.6px;width:400px;text-align:center;top:2209.1px;font-size:36px;line-height:36px;color:#111"><span style="display:inline-block;transform:scaleX(0.88)">110</span></div>
<div class="t " style="left:531.2px;width:400px;text-align:center;top:2209.1px;font-size:36px;line-height:36px;color:#111"><span style="display:inline-block;transform:scaleX(0.88)">80</span></div>
<div class="t " style="left:624.5px;width:400px;text-align:center;top:2209.1px;font-size:36px;line-height:36px;color:#111"><span style="display:inline-block;transform:scaleX(0.88)">60</span></div>
<div class="t " style="left:712.6px;width:400px;text-align:center;top:2209.1px;font-size:36px;line-height:36px;color:#111"><span style="display:inline-block;transform:scaleX(0.88)">100</span></div>
<div class="t " style="left:795.4px;width:400px;text-align:center;top:2209.1px;font-size:36px;line-height:36px;color:#111"><span style="display:inline-block;transform:scaleX(0.88)">90</span></div>
<div class="t " style="left:878.1px;width:400px;text-align:center;top:2209.1px;font-size:36px;line-height:36px;color:#111"><span style="display:inline-block;transform:scaleX(0.88)">37</span></div>
<div class="t " style="left:961.0px;width:400px;text-align:center;top:2209.1px;font-size:36px;line-height:36px;color:#111"><span style="display:inline-block;transform:scaleX(0.88)">130</span></div>
<div class="t " style="left:1044.0px;width:400px;text-align:center;top:2209.1px;font-size:36px;line-height:36px;color:#111"><span style="display:inline-block;transform:scaleX(0.88)">33</span></div>
<div class="t " style="left:1127.0px;width:400px;text-align:center;top:2209.1px;font-size:36px;line-height:36px;color:#111"><span style="display:inline-block;transform:scaleX(0.88)">14</span></div>
<div class="t " style="left:1210.1px;width:400px;text-align:center;top:2209.1px;font-size:36px;line-height:36px;color:#111"><span style="display:inline-block;transform:scaleX(0.88)">14</span></div>
<div class="t " style="left:1293.2px;width:400px;text-align:center;top:2209.1px;font-size:36px;line-height:36px;color:#111"><span style="display:inline-block;transform:scaleX(0.88)">18</span></div>
<div class="t " style="left:1376.0px;width:400px;text-align:center;top:2209.1px;font-size:36px;line-height:36px;color:#111"><span style="display:inline-block;transform:scaleX(0.88)">26</span></div>
<div class="t " style="left:1458.8px;width:400px;text-align:center;top:2209.1px;font-size:36px;line-height:36px;color:#111"><span style="display:inline-block;transform:scaleX(0.88)">17.5</span></div>
<div class="t " style="left:1541.9px;width:400px;text-align:center;top:2209.1px;font-size:36px;line-height:36px;color:#111"><span style="display:inline-block;transform:scaleX(0.88)">M6</span></div>
<div class="t " style="left:1624.9px;width:400px;text-align:center;top:2209.1px;font-size:36px;line-height:36px;color:#111"><span style="display:inline-block;transform:scaleX(0.88)">50</span></div>
<div class="t " style="left:1707.9px;width:400px;text-align:center;top:2209.1px;font-size:36px;line-height:36px;color:#111"><span style="display:inline-block;transform:scaleX(0.88)">43</span></div>
<div class="t " style="left:1790.9px;width:400px;text-align:center;top:2209.1px;font-size:36px;line-height:36px;color:#111"><span style="display:inline-block;transform:scaleX(0.88)">M6</span></div>
<div class="t " style="left:1877.4px;width:400px;text-align:center;top:2209.1px;font-size:36px;line-height:36px;color:#111"><span style="display:inline-block;transform:scaleX(0.88)">6.84</span></div>
<div class="t " style="left:1948px;top:1463.0px;font-size:36px;line-height:36px;color:#111">單位</div>
<div class="t " style="left:1835.0px;width:400px;text-align:center;top:1465.0px;font-size:36px;line-height:36px;color:#111">：</div>
<div class="t" style="left:2053px;top:1465px;font-size:36px;line-height:36px;color:#111"><span style="display:inline-block;transform:scaleX(0.9);transform-origin:0 50%">mm</span></div>
</body></html>
